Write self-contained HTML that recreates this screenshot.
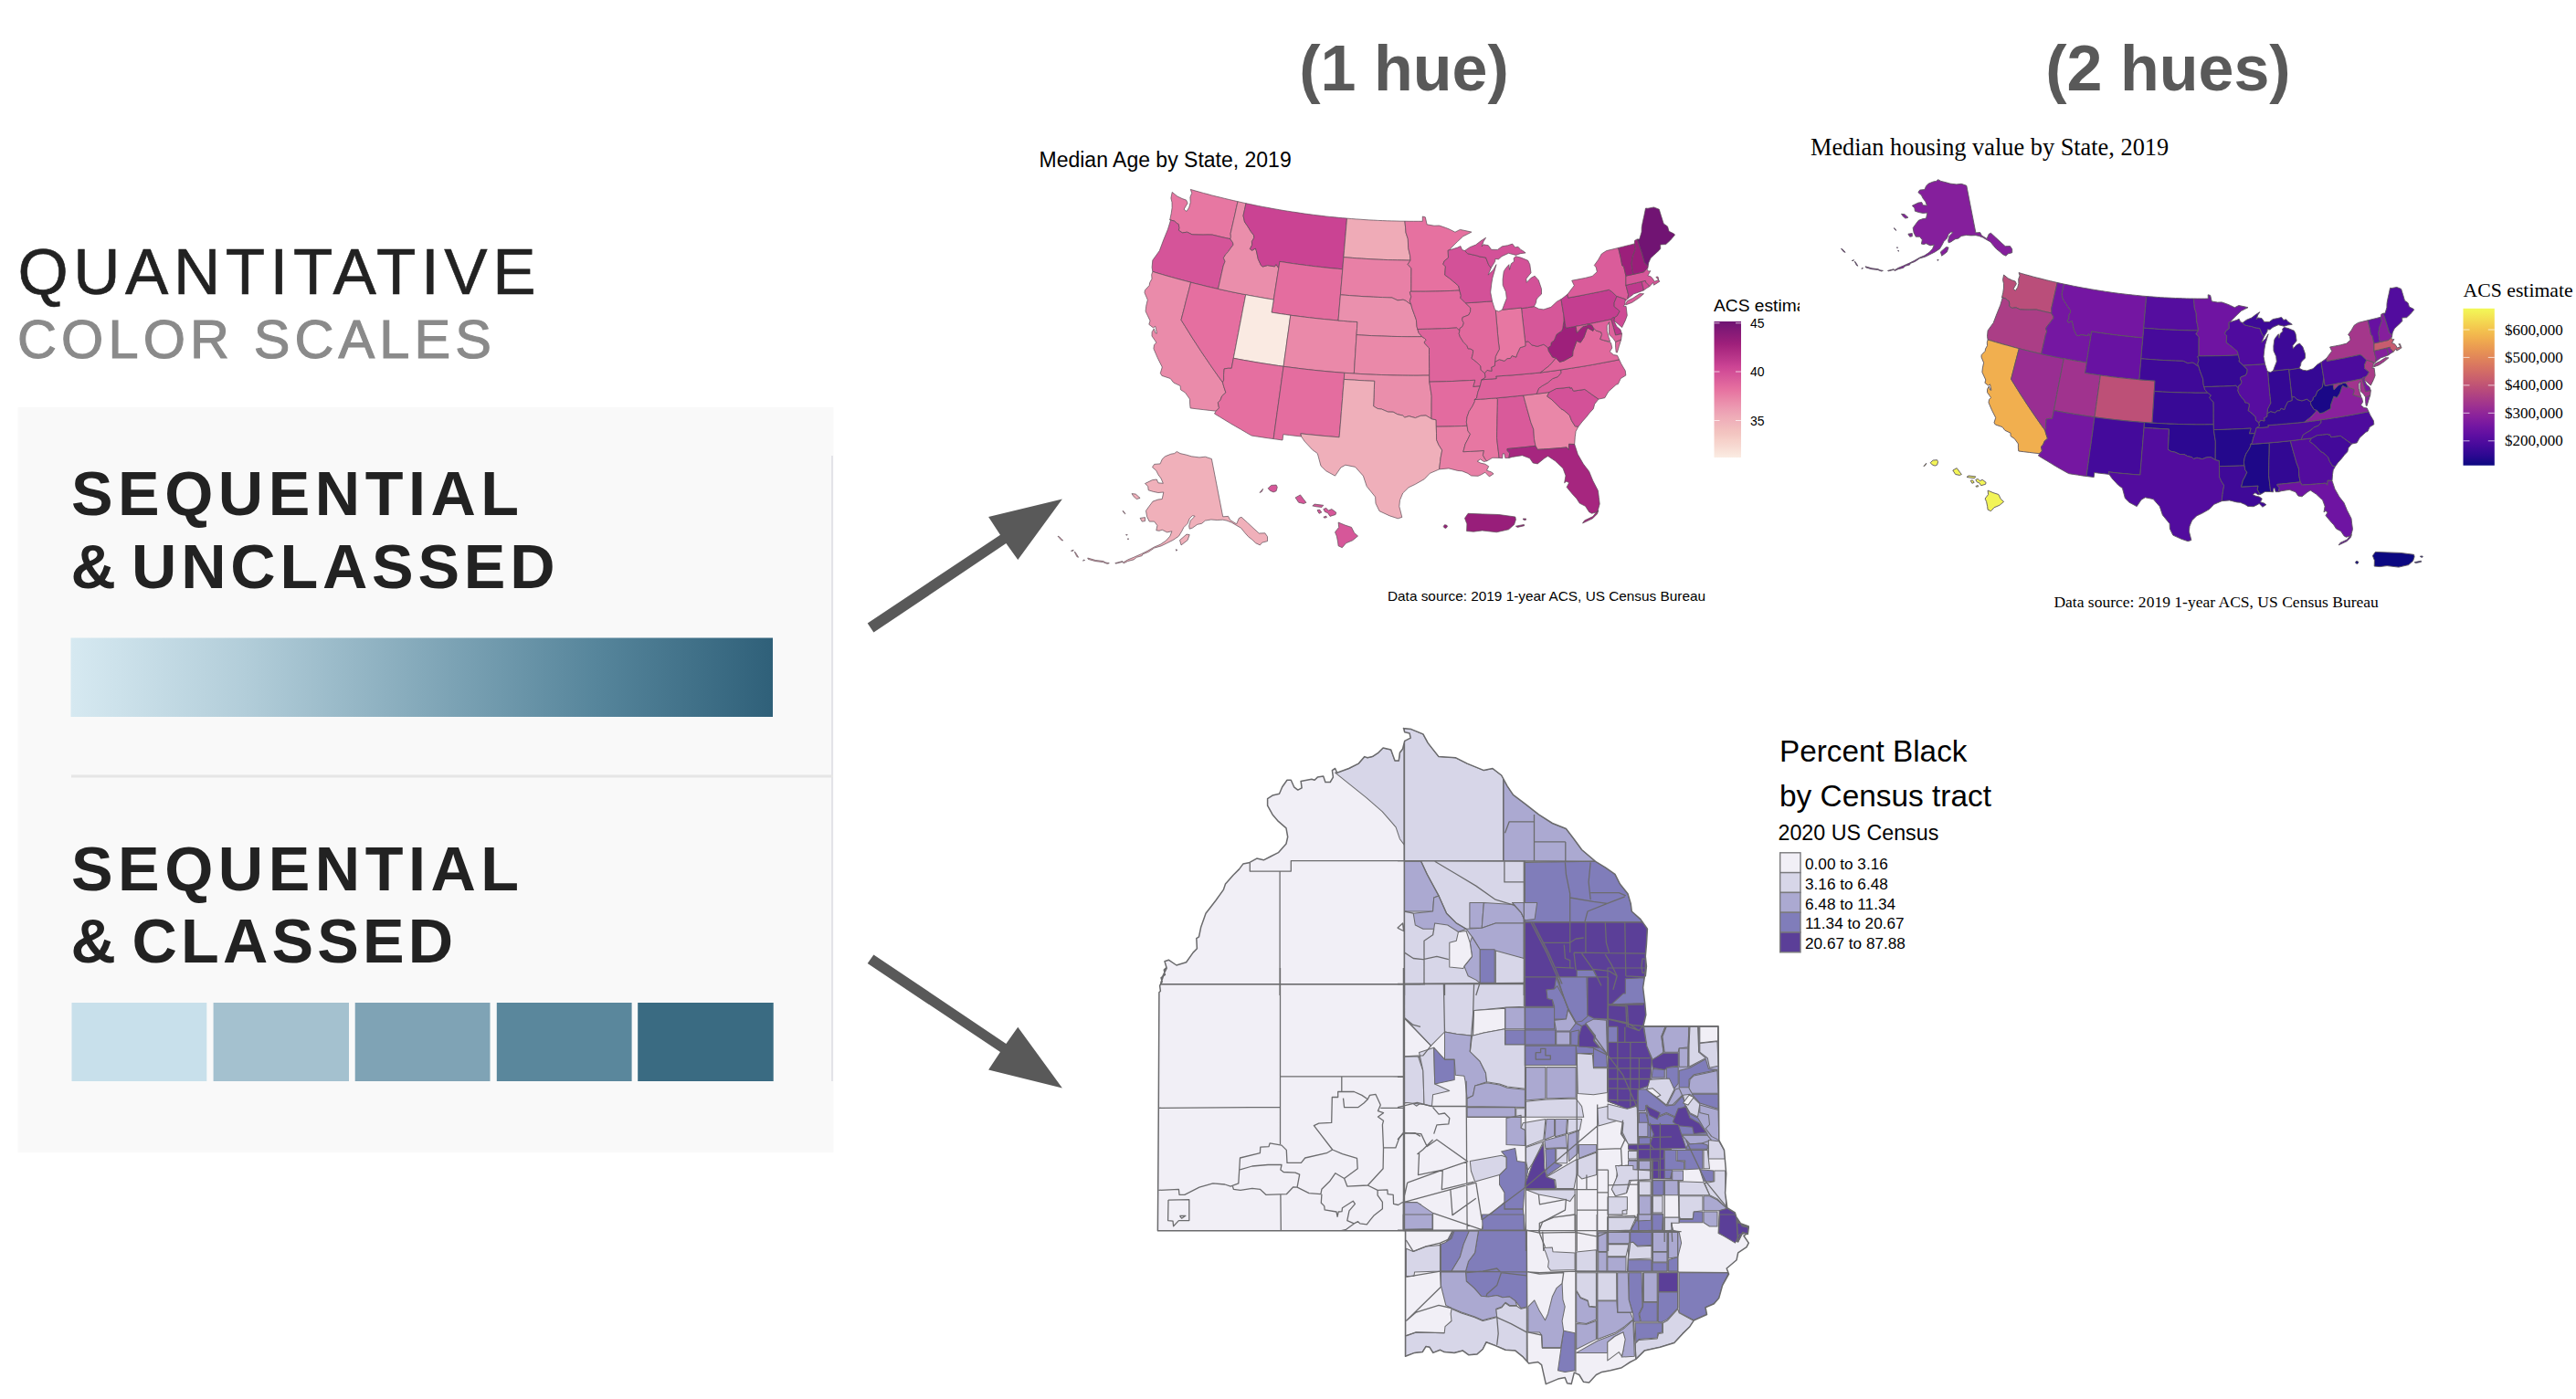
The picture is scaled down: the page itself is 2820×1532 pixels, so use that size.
<!DOCTYPE html>
<html><head><meta charset="utf-8"><title>Quantitative color scales</title>
<style>
html,body{margin:0;padding:0;background:#fff;}
body{width:2820px;height:1532px;overflow:hidden;position:relative;}
svg{position:absolute;left:0;top:0;display:block}
text{font-family:"Liberation Sans",sans-serif;}
.serif{font-family:"Liberation Serif",serif;}
</style></head><body>
<svg width="2820" height="1532" viewBox="0 0 2820 1532">
<defs>
<linearGradient id="gseq" x1="0" x2="1" y1="0" y2="0"><stop offset="0" stop-color="#d6e9f1"/><stop offset="0.25" stop-color="#b2cdd9"/><stop offset="0.5" stop-color="#84a9ba"/><stop offset="0.75" stop-color="#56859b"/><stop offset="1" stop-color="#2f6079"/></linearGradient>
<linearGradient id="grdpu" x1="0" x2="0" y1="1" y2="0">
<stop offset="0.0000" stop-color="#fbece3"/>
<stop offset="0.0417" stop-color="#f9e3da"/>
<stop offset="0.0833" stop-color="#f7d9d2"/>
<stop offset="0.1250" stop-color="#f6d1ca"/>
<stop offset="0.1667" stop-color="#f3c7c2"/>
<stop offset="0.2083" stop-color="#f2bfbe"/>
<stop offset="0.2500" stop-color="#f0b5bc"/>
<stop offset="0.2917" stop-color="#efadb8"/>
<stop offset="0.3333" stop-color="#eda3b5"/>
<stop offset="0.3750" stop-color="#ec97b0"/>
<stop offset="0.4167" stop-color="#ea8baa"/>
<stop offset="0.4583" stop-color="#e87ea5"/>
<stop offset="0.5000" stop-color="#e671a0"/>
<stop offset="0.5417" stop-color="#e0669d"/>
<stop offset="0.5833" stop-color="#d95b9a"/>
<stop offset="0.6250" stop-color="#d35097"/>
<stop offset="0.6667" stop-color="#cc4494"/>
<stop offset="0.7083" stop-color="#c03b8e"/>
<stop offset="0.7500" stop-color="#b53387"/>
<stop offset="0.7917" stop-color="#ab2981"/>
<stop offset="0.8333" stop-color="#9f207b"/>
<stop offset="0.8750" stop-color="#931d79"/>
<stop offset="0.9167" stop-color="#871a77"/>
<stop offset="0.9583" stop-color="#7b1775"/>
<stop offset="1.0000" stop-color="#6f1473"/>
</linearGradient><linearGradient id="gplasma" x1="0" x2="0" y1="1" y2="0">
<stop offset="0.0000" stop-color="#0c0881"/>
<stop offset="0.0625" stop-color="#2c0891"/>
<stop offset="0.1250" stop-color="#450a9b"/>
<stop offset="0.1875" stop-color="#5d0ea1"/>
<stop offset="0.2500" stop-color="#7316a2"/>
<stop offset="0.3125" stop-color="#89219c"/>
<stop offset="0.3750" stop-color="#9c3091"/>
<stop offset="0.4375" stop-color="#ad4084"/>
<stop offset="0.5000" stop-color="#bd5077"/>
<stop offset="0.5625" stop-color="#cb626c"/>
<stop offset="0.6250" stop-color="#d77362"/>
<stop offset="0.6875" stop-color="#e18659"/>
<stop offset="0.7500" stop-color="#ea9a52"/>
<stop offset="0.8125" stop-color="#f1b04e"/>
<stop offset="0.8750" stop-color="#f4c74e"/>
<stop offset="0.9375" stop-color="#f4e053"/>
<stop offset="1.0000" stop-color="#f2f958"/>
</linearGradient></defs>
<!--LEFT-->
<text x="19.5" y="321.5" font-size="71" fill="#222" stroke="#222" stroke-width="0.6" textLength="567" lengthAdjust="spacing">QUANTITATIVE</text>
<text x="19" y="391.5" font-size="59.5" fill="#8a8a8a" stroke="#8a8a8a" stroke-width="1.1" textLength="519" lengthAdjust="spacing">COLOR SCALES</text>
<rect x="19.5" y="446" width="893" height="816" fill="#f9f9f9"/>
<rect x="910" y="499" width="2" height="685" fill="#e3e3e8"/>
<rect x="78" y="848.5" width="834" height="3" fill="#e6e6e6"/>
<text x="78" y="563.5" font-size="68.3" font-weight="bold" fill="#222" textLength="490" lengthAdjust="spacing">SEQUENTIAL</text>
<text x="77.5" y="644" font-size="68.3" font-weight="bold" fill="#222">&amp;</text>
<text x="144" y="644" font-size="68.3" font-weight="bold" fill="#222" textLength="463.5" lengthAdjust="spacing">UNCLASSED</text>
<rect x="77.5" y="698.5" width="768.5" height="86.5" fill="url(#gseq)"/>
<text x="78" y="975" font-size="68.3" font-weight="bold" fill="#222" textLength="490" lengthAdjust="spacing">SEQUENTIAL</text>
<text x="77.5" y="1053.6" font-size="68.3" font-weight="bold" fill="#222">&amp;</text>
<text x="144.5" y="1053.6" font-size="68.3" font-weight="bold" fill="#222" textLength="351.7" lengthAdjust="spacing">CLASSED</text>
<rect x="78.5" y="1098" width="147.8" height="86" fill="#c8e0eb"/>
<rect x="233.6" y="1098" width="148.4" height="86" fill="#a4c1cf"/>
<rect x="388.7" y="1098" width="147.8" height="86" fill="#7fa3b5"/>
<rect x="543.8" y="1098" width="147.8" height="86" fill="#5a879c"/>
<rect x="698.2" y="1098" width="148.5" height="86" fill="#3a6b82"/>
<polygon points="949.7,682.4 1095,585.7 1082.1,566.1 1162.9,546.4 1114.3,613.1 1101.4,595 956.4,692.6" fill="#595959"/>
<polygon points="956.4,1045.4 1101.4,1142.9 1114.3,1124.7 1162.9,1191.4 1082.1,1171.4 1095,1152.1 949.7,1055" fill="#595959"/>
<text x="1537" y="99" font-size="70" font-weight="bold" fill="#595959" text-anchor="middle">(1 hue)</text>
<text x="2373.5" y="99" font-size="70" font-weight="bold" fill="#595959" text-anchor="middle">(2 hues)</text>
<!--MAP1-->
<text x="1137.5" y="182.5" font-size="23" fill="#000">Median Age by State, 2019</text>
<g stroke="#5a4a55" stroke-width="0.7" stroke-linejoin="round">
<path d="M1280.7,240.7L1282.2,233.8L1283.1,227.5L1283.0,221.6L1281.9,217.0L1283.2,210.4L1288.9,215.0L1294.1,217.5L1298.6,219.1L1300.1,222.4L1296.1,229.2L1299.0,231.5L1301.7,227.2L1303.2,221.8L1302.9,216.0L1304.7,211.4L1303.3,207.4L1308.0,208.8L1312.7,210.1L1317.3,211.4L1322.0,212.6L1326.7,213.9L1331.4,215.1L1336.1,216.2L1340.9,217.4L1345.6,218.5L1350.3,219.6L1355.0,220.7L1353.4,227.7L1351.9,234.7L1350.3,241.7L1348.7,248.7L1347.1,255.7L1347.4,259.4L1346.9,261.7L1346.9,261.7L1342.0,260.6L1337.0,259.5L1332.1,258.3L1327.1,257.1L1322.1,257.0L1317.1,257.1L1311.0,257.0L1305.0,256.8L1299.6,254.2L1294.3,254.9L1290.4,252.3L1290.8,249.5L1290.3,245.7L1288.2,244.4L1285.8,242.2L1280.7,240.7Z" fill="#e777a2"/>
<path d="M1261.8,297.4L1261.1,292.8L1261.8,285.0L1269.3,274.6L1273.7,262.8L1278.5,251.0L1281.4,241.6L1280.7,240.7L1285.8,242.2L1288.2,244.4L1290.3,245.7L1290.8,249.5L1290.4,252.3L1294.3,254.9L1299.6,254.2L1305.0,256.8L1311.0,257.0L1317.1,257.1L1322.1,257.0L1327.1,257.1L1332.1,258.3L1337.0,259.5L1342.0,260.6L1346.9,261.7L1346.9,261.7L1349.7,265.9L1350.0,268.2L1347.2,271.8L1344.5,275.6L1341.8,278.6L1339.4,282.4L1341.1,286.3L1339.2,291.0L1337.3,299.4L1335.4,307.9L1333.5,316.4L1328.3,315.2L1323.2,314.0L1318.0,312.8L1312.9,311.5L1307.7,310.3L1302.6,308.9L1297.5,307.6L1292.3,306.2L1287.2,304.8L1282.1,303.4L1277.0,301.9L1271.9,300.5L1266.9,299.0Z" fill="#d55499"/>
<path d="M1261.8,297.4L1267.0,299.0L1272.2,300.5L1277.4,302.1L1282.6,303.5L1287.9,305.0L1293.1,306.4L1298.4,307.8L1303.6,309.2L1301.9,316.1L1300.1,322.9L1298.3,329.7L1296.6,336.6L1294.8,343.5L1293.0,350.3L1297.3,357.2L1301.6,364.1L1305.9,371.0L1310.4,377.9L1314.9,384.8L1319.5,391.6L1324.1,398.4L1328.8,405.2L1333.6,412.0L1338.5,418.8L1339.7,423.3L1341.9,429.9L1337.7,433.7L1335.9,438.4L1333.3,440.8L1334.5,446.8L1331.2,450.2L1324.2,449.4L1317.1,448.6L1310.1,447.8L1303.1,446.9L1302.6,442.2L1302.5,437.1L1297.6,430.1L1292.4,426.7L1292.2,422.6L1284.8,419.1L1281.2,414.5L1271.9,411.4L1270.3,408.7L1272.3,402.0L1267.2,391.8L1262.9,381.8L1263.5,377.6L1265.9,375.3L1264.3,372.7L1261.0,368.0L1261.1,363.6L1263.3,359.9L1264.8,364.7L1266.4,365.2L1265.5,360.5L1264.7,357.3L1262.5,358.9L1257.8,355.3L1259.0,351.2L1254.1,340.9L1254.7,335.2L1256.3,328.3L1253.0,320.6L1253.4,317.8L1258.2,312.6L1258.6,309.7L1261.0,305.3L1260.7,300.8Z" fill="#ea8baa"/>
<path d="M1303.6,309.2L1309.0,310.6L1314.5,311.9L1319.9,313.3L1325.4,314.6L1330.8,315.8L1336.3,317.0L1341.8,318.2L1347.2,319.4L1352.7,320.5L1358.2,321.6L1363.7,322.7L1362.4,329.7L1361.0,336.6L1359.7,343.5L1358.4,350.5L1357.0,357.4L1355.7,364.4L1354.3,371.4L1353.0,378.3L1351.7,385.3L1350.3,392.2L1350.3,392.2L1348.2,403.3L1344.2,403.3L1340.2,403.9L1339.6,410.3L1339.7,416.1L1338.5,418.8L1333.6,412.0L1328.8,405.2L1324.1,398.4L1319.5,391.6L1314.9,384.8L1310.4,377.9L1305.9,371.0L1301.6,364.1L1297.3,357.2L1293.0,350.3L1294.8,343.5L1296.6,336.6L1298.3,329.7L1300.1,322.9L1301.9,316.1Z" fill="#e56fa0"/>
<path d="M1355.0,220.7L1364.0,222.7L1364.0,222.7L1362.5,229.5L1361.0,236.2L1362.5,243.0L1365.9,247.9L1369.2,253.3L1372.7,257.9L1372.7,260.7L1370.4,264.5L1370.7,268.2L1368.3,272.6L1370.5,274.3L1374.4,272.0L1375.4,274.8L1377.3,283.7L1380.5,290.7L1382.3,292.0L1387.6,290.6L1395.5,291.9L1396.9,289.5L1399.8,293.7L1398.4,302.3L1397.0,310.9L1395.7,319.5L1394.3,328.1L1388.7,327.2L1383.2,326.3L1377.6,325.3L1372.1,324.3L1366.6,323.3L1361.0,322.2L1355.5,321.1L1350.0,320.0L1344.5,318.8L1339.0,317.6L1333.5,316.4L1333.5,316.4L1335.4,307.9L1337.3,299.4L1339.2,291.0L1341.1,286.3L1339.4,282.4L1341.8,278.6L1344.5,275.6L1347.2,271.8L1350.0,268.2L1349.7,265.9L1346.9,261.7L1346.9,261.7L1347.4,259.4L1347.1,255.7L1348.7,248.7L1350.3,241.7L1351.9,234.7L1353.4,227.7L1355.0,220.7Z" fill="#ea8eab"/>
<path d="M1399.8,293.7L1396.9,289.5L1395.5,291.9L1387.6,290.6L1382.3,292.0L1380.5,290.7L1377.3,283.7L1375.4,274.8L1374.4,272.0L1370.5,274.3L1368.3,272.6L1370.7,268.2L1370.4,264.5L1372.7,260.7L1372.7,257.9L1369.2,253.3L1365.9,247.9L1362.5,243.0L1361.0,236.2L1362.5,229.5L1364.0,222.7L1368.5,223.6L1373.1,224.6L1377.6,225.5L1382.2,226.4L1386.8,227.2L1391.4,228.1L1396.0,228.9L1400.6,229.7L1405.1,230.5L1409.7,231.2L1414.3,231.9L1419.0,232.6L1423.6,233.3L1428.2,234.0L1432.8,234.6L1437.4,235.2L1442.0,235.8L1446.7,236.3L1451.3,236.9L1455.9,237.4L1460.6,237.8L1465.2,238.3L1469.8,238.7L1474.5,239.1L1473.9,246.0L1473.3,253.0L1472.7,259.9L1472.1,266.8L1471.5,273.8L1470.9,280.8L1470.3,287.8L1469.8,294.8L1464.8,294.3L1459.9,293.9L1455.0,293.4L1450.0,292.9L1445.1,292.3L1440.2,291.8L1435.3,291.2L1430.4,290.6L1425.4,289.9L1420.5,289.3L1415.6,288.6L1410.7,287.9L1405.8,287.1L1400.9,286.4Z" fill="#ca4393"/>
<path d="M1400.9,286.4L1405.8,287.1L1410.7,287.9L1415.6,288.6L1420.5,289.3L1425.4,289.9L1430.4,290.6L1435.3,291.2L1440.2,291.8L1445.1,292.3L1450.0,292.9L1455.0,293.4L1459.9,293.9L1464.8,294.3L1469.8,294.8L1469.2,301.8L1468.6,308.8L1468.0,315.8L1467.4,322.8L1466.8,329.8L1466.2,336.9L1465.6,343.9L1465.0,351.0L1459.8,350.5L1454.5,350.0L1449.3,349.5L1444.1,349.0L1438.9,348.4L1433.6,347.8L1428.4,347.2L1423.2,346.5L1418.0,345.9L1412.8,345.2L1407.6,344.4L1402.4,343.7L1397.2,342.9L1392.0,342.1L1393.2,335.1L1394.3,328.1L1395.4,321.1L1396.5,314.2L1397.6,307.2L1398.7,300.2L1399.8,293.3Z" fill="#e46d9f"/>
<path d="M1363.7,322.7L1368.8,323.7L1373.9,324.6L1379.0,325.5L1384.1,326.4L1389.2,327.3L1394.3,328.1L1393.2,335.1L1392.0,342.1L1397.2,342.9L1402.4,343.7L1407.6,344.4L1412.8,345.2L1411.8,352.2L1410.9,359.2L1409.9,366.2L1408.9,373.2L1408.0,380.2L1407.0,387.2L1406.0,394.2L1405.1,401.3L1399.6,400.5L1394.1,399.7L1388.6,398.8L1383.1,398.0L1377.6,397.1L1372.2,396.2L1366.7,395.2L1361.2,394.3L1355.8,393.3L1350.3,392.2L1351.7,385.3L1353.0,378.3L1354.3,371.4L1355.7,364.4L1357.0,357.4L1358.4,350.5L1359.7,343.5L1361.0,336.6L1362.4,329.7Z" fill="#faeae2"/>
<path d="M1412.8,345.2L1418.0,345.9L1423.2,346.5L1428.4,347.2L1433.6,347.8L1438.9,348.4L1444.1,349.0L1449.3,349.5L1454.5,350.0L1459.8,350.5L1465.0,351.0L1470.2,351.4L1475.4,351.8L1480.7,352.2L1485.9,352.5L1485.5,359.6L1485.0,366.6L1484.6,373.7L1484.1,380.8L1483.7,387.8L1483.2,394.9L1482.8,402.0L1482.3,409.0L1476.8,408.7L1471.3,408.3L1465.7,407.9L1460.2,407.4L1454.7,406.9L1449.1,406.4L1443.6,405.9L1438.1,405.3L1432.6,404.7L1427.1,404.1L1421.6,403.4L1416.1,402.7L1410.6,402.0L1405.1,401.3L1406.0,394.2L1407.0,387.2L1408.0,380.2L1408.9,373.2L1409.9,366.2L1410.9,359.2L1411.8,352.2Z" fill="#ea89a9"/>
<path d="M1350.3,392.2L1348.2,403.3L1344.2,403.3L1340.2,403.9L1339.6,410.3L1339.7,416.1L1338.5,418.8L1339.7,423.3L1341.9,429.9L1337.7,433.7L1335.9,438.4L1333.3,440.8L1334.5,446.8L1331.2,450.2L1329.5,453.0L1335.3,456.5L1341.0,460.0L1346.8,463.5L1352.6,466.9L1358.5,470.3L1364.3,473.7L1370.2,477.1L1376.2,478.0L1382.2,478.9L1388.1,479.8L1394.1,480.6L1395.1,473.4L1396.1,466.2L1397.1,459.0L1398.1,451.8L1399.1,444.6L1400.1,437.4L1401.1,430.2L1402.1,422.9L1403.1,415.7L1404.1,408.5L1405.1,401.3L1399.6,400.5L1394.1,399.7L1388.6,398.8L1383.1,398.0L1377.6,397.1L1372.2,396.2L1366.7,395.2L1361.2,394.3L1355.8,393.3Z" fill="#e56fa0"/>
<path d="M1405.1,401.3L1410.6,402.0L1416.2,402.7L1421.7,403.4L1427.3,404.1L1432.8,404.7L1438.4,405.3L1443.9,405.9L1449.5,406.4L1455.1,407.0L1460.7,407.4L1466.2,407.9L1471.8,408.3L1471.3,415.4L1470.7,422.4L1470.1,429.5L1469.6,436.5L1469.0,443.6L1468.4,450.6L1467.9,457.7L1467.3,464.7L1466.7,471.8L1466.1,478.8L1460.1,478.3L1454.1,477.8L1448.0,477.3L1442.0,476.7L1436.0,476.1L1430.0,475.5L1423.9,474.8L1424.6,478.0L1418.0,477.3L1411.4,476.5L1404.8,475.7L1404.0,482.0L1394.1,480.6L1395.1,473.4L1396.1,466.2L1397.1,459.0L1398.1,451.8L1399.1,444.6L1400.1,437.4L1401.1,430.2L1402.1,422.9L1403.1,415.7L1404.1,408.5Z" fill="#e46d9f"/>
<path d="M1474.5,239.1L1479.4,239.5L1484.2,239.9L1489.1,240.2L1494.0,240.6L1498.9,240.9L1503.7,241.1L1508.6,241.4L1513.5,241.6L1518.4,241.8L1523.3,241.9L1528.2,242.0L1533.1,242.2L1537.9,242.2L1538.6,249.2L1539.0,254.7L1541.3,261.7L1541.7,271.5L1543.6,279.9L1544.0,285.1L1539.1,285.0L1534.3,284.9L1529.4,284.8L1524.5,284.7L1519.6,284.6L1514.7,284.4L1509.9,284.2L1505.0,284.0L1500.1,283.7L1495.2,283.4L1490.3,283.1L1485.5,282.8L1480.6,282.4L1475.7,282.0L1470.9,281.6L1471.5,274.5L1472.1,267.4L1472.7,260.3L1473.3,253.2L1473.9,246.2Z" fill="#efabb7"/>
<path d="M1470.9,281.6L1475.7,282.0L1480.6,282.4L1485.5,282.8L1490.3,283.1L1495.2,283.4L1500.1,283.7L1505.0,284.0L1509.9,284.2L1514.7,284.4L1519.6,284.6L1524.5,284.7L1529.4,284.8L1534.3,284.9L1539.1,285.0L1544.0,285.1L1541.1,289.4L1545.0,293.9L1544.9,302.3L1544.9,310.8L1544.8,319.2L1543.3,319.9L1544.8,324.9L1543.3,329.8L1544.8,333.5L1542.2,331.9L1539.2,329.5L1536.1,328.2L1530.0,328.9L1523.9,326.0L1518.8,325.8L1513.6,325.6L1508.5,325.4L1503.3,325.2L1498.2,324.9L1493.0,324.7L1487.9,324.3L1482.8,324.0L1477.6,323.6L1472.5,323.2L1467.4,322.8L1468.1,314.6L1468.8,306.3L1469.5,298.1L1470.2,289.8Z" fill="#e880a6"/>
<path d="M1467.4,322.8L1472.5,323.2L1477.6,323.6L1482.8,324.0L1487.9,324.3L1493.0,324.7L1498.2,324.9L1503.3,325.2L1508.5,325.4L1513.6,325.6L1518.8,325.8L1523.9,326.0L1530.0,328.9L1536.1,328.2L1539.2,329.5L1542.2,331.9L1544.8,333.5L1545.8,337.6L1548.4,344.6L1550.4,350.3L1551.0,357.4L1551.8,360.5L1553.1,364.4L1556.7,368.7L1551.2,368.7L1545.7,368.7L1540.2,368.7L1534.7,368.6L1529.1,368.5L1523.6,368.4L1518.1,368.2L1512.6,368.0L1507.1,367.8L1501.6,367.6L1496.0,367.3L1490.5,367.0L1485.0,366.6L1485.5,359.6L1485.9,352.5L1480.7,352.2L1475.4,351.8L1470.2,351.4L1465.0,351.0L1465.6,343.9L1466.2,336.9L1466.8,329.8Z" fill="#ea90ad"/>
<path d="M1485.0,366.6L1490.5,367.0L1496.0,367.3L1501.6,367.6L1507.1,367.8L1512.6,368.0L1518.1,368.2L1523.6,368.4L1529.1,368.5L1534.7,368.6L1540.2,368.7L1545.7,368.7L1551.2,368.7L1556.7,368.7L1559.5,370.5L1561.2,372.2L1559.0,375.0L1561.2,377.8L1564.5,381.0L1564.5,388.5L1564.6,396.1L1564.7,403.6L1564.7,411.1L1558.8,411.1L1552.9,411.2L1547.0,411.2L1541.2,411.1L1535.3,411.1L1529.4,411.0L1523.5,410.9L1517.6,410.7L1511.7,410.5L1505.8,410.3L1500.0,410.0L1494.1,409.7L1488.2,409.4L1482.3,409.0L1482.8,402.0L1483.2,394.9L1483.7,387.8L1484.1,380.8L1484.6,373.7Z" fill="#ea89a9"/>
<path d="M1471.8,408.3L1477.6,408.7L1483.4,409.1L1489.2,409.5L1495.0,409.8L1500.8,410.1L1506.6,410.3L1512.4,410.5L1518.2,410.7L1524.0,410.9L1529.8,411.0L1535.7,411.1L1541.5,411.2L1547.3,411.2L1553.1,411.2L1558.9,411.1L1564.7,411.1L1564.8,418.2L1566.0,425.9L1567.2,433.7L1567.1,442.0L1567.1,450.3L1567.0,458.6L1567.0,458.6L1561.0,455.0L1555.2,455.3L1549.4,457.6L1542.5,455.7L1537.8,457.1L1535.5,455.0L1529.8,453.7L1525.2,451.2L1519.5,451.1L1512.6,448.1L1508.1,447.5L1503.6,444.8L1504.0,435.6L1504.3,426.5L1504.7,417.3L1499.2,417.1L1493.6,416.8L1488.0,416.5L1482.4,416.1L1476.9,415.8L1471.3,415.4Z" fill="#ea8eab"/>
<path d="M1471.3,415.4L1476.9,415.8L1482.4,416.1L1488.0,416.5L1493.6,416.8L1499.2,417.1L1504.7,417.3L1504.3,426.5L1504.0,435.6L1503.6,444.8L1508.1,447.5L1512.6,448.1L1519.5,451.1L1525.2,451.2L1529.8,453.7L1535.5,455.0L1537.8,457.1L1542.5,455.7L1549.4,457.6L1555.2,455.3L1561.0,455.0L1567.0,458.6L1572.2,459.8L1572.3,467.2L1572.5,474.4L1572.6,481.6L1575.0,487.2L1578.7,493.0L1577.1,501.2L1576.6,505.5L1575.6,513.9L1565.3,518.3L1559.2,524.7L1549.4,530.3L1542.0,533.8L1535.7,540.0L1532.5,547.7L1531.8,554.6L1534.8,566.4L1534.8,566.4L1530.3,567.8L1521.4,564.9L1510.1,559.7L1506.0,551.2L1505.6,544.2L1496.2,532.6L1492.4,521.2L1483.7,511.4L1472.9,509.2L1467.8,512.0L1461.6,521.1L1451.6,515.7L1446.0,510.3L1442.3,496.6L1436.7,492.5L1428.0,483.1L1424.6,478.0L1423.9,474.8L1430.0,475.5L1436.0,476.1L1442.0,476.7L1448.0,477.3L1454.1,477.8L1460.1,478.3L1466.1,478.8L1466.7,471.8L1467.3,464.7L1467.9,457.7L1468.4,450.6L1469.0,443.6L1469.6,436.5L1470.1,429.5L1470.7,422.4Z" fill="#efafba"/>
<path d="M1544.0,285.1L1543.6,279.9L1541.7,271.5L1541.3,261.7L1539.0,254.7L1538.6,249.2L1537.9,242.2L1542.8,242.3L1547.6,242.3L1552.5,242.3L1557.3,242.3L1557.3,237.0L1560.3,237.8L1562.1,245.8L1570.0,247.2L1575.6,247.0L1582.3,249.3L1587.1,251.2L1592.9,254.2L1598.4,251.4L1606.1,253.0L1610.9,254.1L1606.3,256.5L1601.7,258.8L1595.3,264.8L1587.9,272.1L1587.8,273.5L1585.2,274.2L1585.5,282.3L1581.2,285.7L1579.8,289.2L1582.4,291.9L1581.7,301.1L1586.3,304.4L1590.5,307.8L1596.7,313.1L1597.8,318.0L1592.5,318.3L1587.2,318.5L1581.9,318.7L1576.6,318.9L1571.3,319.0L1566.0,319.1L1560.7,319.2L1555.4,319.2L1550.1,319.2L1544.8,319.2L1544.8,319.2L1544.9,310.8L1544.9,302.3L1545.0,293.9L1541.1,289.4L1544.0,285.1Z" fill="#e671a0"/>
<path d="M1544.8,319.2L1550.1,319.2L1555.4,319.2L1560.7,319.2L1566.0,319.1L1571.3,319.0L1576.6,318.9L1581.9,318.7L1587.2,318.5L1592.5,318.3L1597.8,318.0L1599.3,323.6L1598.9,326.4L1604.3,331.8L1609.8,337.1L1609.6,341.4L1607.7,345.0L1601.1,347.5L1600.7,350.4L1602.4,353.8L1601.0,357.5L1598.0,359.7L1597.9,362.1L1594.5,359.0L1589.1,359.3L1583.8,359.6L1578.5,359.8L1573.2,360.0L1567.8,360.2L1562.5,360.3L1557.2,360.4L1551.8,360.5L1551.8,360.5L1551.0,357.4L1550.4,350.3L1548.4,344.6L1545.8,337.6L1544.8,333.5L1544.8,333.5L1543.3,329.8L1544.8,324.9L1543.3,319.9L1544.8,319.2Z" fill="#e36b9f"/>
<path d="M1551.8,360.5L1557.2,360.4L1562.5,360.3L1567.8,360.2L1573.2,360.0L1578.5,359.8L1583.8,359.6L1589.1,359.3L1594.5,359.0L1597.9,362.1L1597.2,365.4L1598.4,368.9L1601.9,374.4L1605.9,378.5L1607.2,381.9L1609.3,381.8L1612.7,383.7L1612.4,387.3L1611.0,392.4L1616.2,396.3L1620.9,400.9L1621.2,405.2L1625.4,408.7L1626.2,413.3L1623.6,415.0L1621.9,415.8L1621.1,419.4L1620.2,423.0L1612.7,423.5L1614.7,416.3L1608.5,416.6L1602.2,416.9L1596.0,417.2L1589.8,417.5L1583.5,417.7L1577.3,417.9L1571.1,418.0L1564.8,418.2L1564.7,411.1L1564.7,403.6L1564.6,396.1L1564.5,388.5L1564.5,381.0L1561.2,377.8L1559.0,375.0L1561.2,372.2L1559.5,370.5L1556.7,368.7L1556.7,368.7L1553.1,364.4L1551.8,360.5Z" fill="#de649c"/>
<path d="M1564.8,418.2L1571.1,418.0L1577.3,417.9L1583.5,417.7L1589.8,417.5L1596.0,417.2L1602.2,416.9L1608.5,416.6L1614.7,416.3L1612.7,423.5L1620.2,423.0L1617.8,429.5L1616.5,436.0L1614.3,437.5L1614.4,439.7L1611.9,444.8L1608.2,450.6L1606.1,456.4L1605.3,462.1L1606.1,466.3L1599.3,466.6L1592.6,466.8L1585.8,467.0L1579.1,467.1L1572.3,467.2L1572.2,459.8L1567.0,458.6L1567.1,450.3L1567.1,442.0L1567.2,433.7L1566.0,425.9Z" fill="#e36b9f"/>
<path d="M1572.3,467.2L1579.1,467.1L1585.8,467.0L1592.6,466.8L1599.3,466.6L1606.1,466.3L1606.9,471.9L1609.5,475.3L1606.8,481.1L1604.1,486.2L1602.6,491.9L1601.8,494.7L1609.3,494.4L1616.9,493.9L1624.5,493.5L1623.4,498.5L1626.1,503.2L1627.8,504.8L1624.4,505.5L1620.6,502.9L1617.2,505.2L1620.9,507.1L1625.8,508.2L1629.7,510.7L1627.5,515.1L1632.5,516.9L1635.1,518.8L1630.4,521.9L1625.8,517.3L1621.7,519.7L1618.1,521.3L1610.7,521.0L1606.9,518.4L1600.7,515.9L1595.8,515.4L1585.9,512.9L1575.6,513.9L1575.6,513.9L1576.6,505.5L1577.1,501.2L1578.7,493.0L1575.0,487.2L1572.6,481.6L1572.5,474.4Z" fill="#e880a6"/>
<path d="M1614.3,437.5L1614.4,439.7L1611.9,444.8L1608.2,450.6L1606.1,456.4L1605.3,462.1L1606.1,466.3L1606.9,471.9L1609.5,475.3L1606.8,481.1L1604.1,486.2L1602.6,491.9L1601.8,494.7L1609.3,494.4L1616.9,493.9L1624.5,493.5L1623.4,498.5L1626.1,503.2L1627.8,504.8L1633.9,501.3L1641.1,501.4L1640.3,494.2L1639.4,487.0L1638.6,479.7L1638.7,472.7L1638.9,465.6L1639.0,458.5L1639.2,451.4L1639.3,444.3L1639.4,437.2L1638.2,435.9L1632.2,436.3L1626.2,436.8L1620.3,437.2L1614.3,437.5Z" fill="#e777a2"/>
<path d="M1638.2,435.9L1639.4,437.2L1639.3,444.3L1639.2,451.4L1639.0,458.5L1638.9,465.6L1638.7,472.7L1638.6,479.7L1639.4,487.0L1640.3,494.2L1641.1,501.4L1644.8,501.8L1645.0,496.9L1646.8,496.7L1647.8,501.6L1651.8,501.5L1652.8,496.2L1650.1,493.6L1650.0,491.5L1656.2,490.9L1662.4,490.3L1668.6,489.7L1674.8,489.0L1681.0,488.3L1681.0,488.3L1679.5,480.7L1678.8,470.1L1675.8,462.4L1673.8,455.1L1671.7,447.7L1669.7,440.4L1667.7,433.0L1661.8,433.6L1655.9,434.2L1650.0,434.8L1644.1,435.3Z" fill="#d95a9a"/>
<path d="M1667.7,433.0L1669.7,440.4L1671.7,447.7L1673.8,455.1L1675.8,462.4L1678.8,470.1L1679.5,480.7L1681.0,488.3L1683.1,492.3L1689.5,491.9L1695.9,491.5L1702.3,491.0L1708.7,490.5L1715.1,489.9L1717.3,492.6L1717.6,486.3L1723.7,486.5L1724.3,478.2L1725.1,472.3L1727.9,467.2L1724.3,466.8L1720.3,460.3L1718.3,454.9L1712.1,449.4L1708.9,447.7L1701.4,440.2L1698.1,437.1L1693.7,434.1L1695.9,429.5L1690.3,430.3L1684.6,431.0L1679.0,431.7L1673.3,432.4Z" fill="#e987a8"/>
<path d="M1651.8,501.5L1652.8,496.2L1650.1,493.6L1650.0,491.5L1656.2,490.9L1662.4,490.3L1668.6,489.7L1674.8,489.0L1681.0,488.3L1683.1,492.3L1689.5,491.9L1695.9,491.5L1702.3,491.0L1708.7,490.5L1715.1,489.9L1717.3,492.6L1717.6,486.3L1723.7,486.5L1727.3,497.6L1733.3,508.0L1739.6,516.2L1743.7,526.2L1749.4,537.3L1750.3,544.5L1751.2,551.8L1748.8,560.6L1742.6,562.3L1739.7,560.7L1735.5,554.3L1729.2,551.1L1725.9,545.9L1721.3,541.0L1715.1,533.4L1717.6,528.8L1714.9,527.1L1712.6,528.8L1714.0,520.9L1711.0,512.8L1702.5,504.8L1694.5,499.4L1690.5,502.0L1683.2,507.9L1678.2,507.0L1674.6,501.8L1666.4,498.7L1655.6,500.4L1651.8,501.5ZM1749.8,559.0L1748.5,562.8L1743.5,567.8L1732.5,573.0L1734.6,569.9L1743.8,565.6L1747.5,560.8Z" fill="#a6267f"/>
<path d="M1695.9,429.5L1703.4,425.6L1711.1,424.9L1718.7,424.0L1718.9,425.4L1720.5,424.5L1722.5,428.2L1728.7,427.3L1734.9,426.4L1742.4,431.8L1750.0,437.1L1745.7,442.4L1744.3,447.7L1740.3,452.0L1736.4,456.9L1731.9,462.0L1727.9,467.2L1727.9,467.2L1724.3,466.8L1720.3,460.3L1718.3,454.9L1712.1,449.4L1708.9,447.7L1701.4,440.2L1698.1,437.1L1693.7,434.1L1695.9,429.5Z" fill="#d35198"/>
<path d="M1708.6,405.0L1708.8,408.4L1705.5,412.5L1699.6,414.7L1694.5,419.0L1688.1,422.7L1684.5,425.3L1682.1,431.3L1689.0,430.5L1695.9,429.5L1703.4,425.6L1711.1,424.9L1718.7,424.0L1718.9,425.4L1720.5,424.5L1722.5,428.2L1728.7,427.3L1734.9,426.4L1742.4,431.8L1750.0,437.1L1756.8,435.7L1760.8,428.8L1769.2,421.3L1771.4,420.5L1774.2,414.5L1779.8,411.1L1779.3,406.1L1774.8,398.4L1772.6,393.8L1766.8,395.0L1761.0,396.1L1755.2,397.2L1749.4,398.3L1743.6,399.4L1737.8,400.4L1731.9,401.4L1726.1,402.3L1720.3,403.2L1714.4,404.1Z" fill="#dc609b"/>
<path d="M1614.3,437.5L1614.3,437.5L1616.5,436.0L1617.8,429.5L1620.2,423.0L1620.2,423.0L1621.1,419.4L1621.9,415.8L1630.0,415.2L1638.1,414.6L1637.7,412.0L1643.8,411.6L1649.9,411.2L1656.0,410.8L1662.1,410.3L1668.2,409.7L1674.3,409.2L1680.4,408.6L1686.4,408.0L1692.0,407.3L1697.5,406.5L1703.0,405.8L1708.6,405.0L1708.6,405.0L1708.8,408.4L1705.5,412.5L1699.6,414.7L1694.5,419.0L1688.1,422.7L1684.5,425.3L1682.1,431.3L1674.9,432.2L1667.7,433.0L1661.8,433.6L1655.9,434.2L1650.0,434.8L1644.1,435.3L1638.2,435.9L1632.2,436.3L1626.2,436.8L1620.3,437.2Z" fill="#dd629c"/>
<path d="M1621.9,415.8L1623.6,415.0L1626.2,413.3L1625.4,408.7L1627.9,405.4L1633.0,406.4L1632.6,402.2L1636.4,400.5L1636.6,396.2L1641.3,393.7L1646.9,395.3L1650.0,392.6L1653.3,392.5L1655.2,389.5L1659.7,391.1L1661.0,387.2L1664.1,380.7L1669.9,378.9L1669.7,374.4L1673.1,373.9L1676.8,377.8L1683.0,379.4L1689.9,377.2L1694.8,380.8L1695.3,384.3L1699.6,391.1L1703.4,392.1L1696.4,400.2L1686.4,408.0L1680.4,408.6L1674.3,409.2L1668.2,409.7L1662.1,410.3L1656.0,410.8L1649.9,411.2L1643.8,411.6L1637.7,412.0L1638.1,414.6L1630.0,415.2Z" fill="#dc609b"/>
<path d="M1686.4,408.0L1696.4,400.2L1703.4,392.1L1707.3,396.4L1712.1,395.1L1716.0,392.9L1721.6,389.8L1721.9,384.8L1726.0,373.3L1730.2,375.1L1733.9,369.4L1737.7,358.9L1744.0,362.4L1744.7,359.5L1747.6,362.1L1752.9,363.9L1753.5,366.7L1751.7,371.4L1755.8,372.7L1763.6,375.4L1764.8,381.0L1762.3,385.1L1766.4,388.6L1770.5,389.2L1772.6,393.8L1766.8,395.0L1761.0,396.1L1755.2,397.2L1749.4,398.3L1743.6,399.4L1737.8,400.4L1731.9,401.4L1726.1,402.3L1720.3,403.2L1714.4,404.1L1708.6,405.0L1703.0,405.8L1697.5,406.5L1692.0,407.3ZM1769.2,385.8L1768.6,380.2L1768.5,374.4L1774.7,371.9L1772.3,379.4L1770.4,386.0Z" fill="#e1699d"/>
<path d="M1703.4,392.1L1699.6,391.1L1695.3,384.3L1694.8,380.8L1697.7,378.5L1698.3,374.9L1701.3,373.0L1702.5,369.9L1704.1,366.1L1709.5,362.4L1710.7,360.1L1712.0,351.2L1712.0,346.4L1714.1,359.2L1719.6,358.3L1725.1,357.3L1726.4,364.6L1729.8,360.4L1733.1,357.6L1736.7,356.7L1738.6,355.2L1742.6,355.9L1744.7,359.5L1744.0,362.4L1737.7,358.9L1733.9,369.4L1730.2,375.1L1726.0,373.3L1721.9,384.8L1721.6,389.8L1716.0,392.9L1712.1,395.1L1707.3,396.4L1703.4,392.1Z" fill="#9e207b"/>
<path d="M1669.7,374.4L1673.1,373.9L1676.8,377.8L1683.0,379.4L1689.9,377.2L1694.8,380.8L1697.7,378.5L1698.3,374.9L1701.3,373.0L1702.5,369.9L1704.1,366.1L1709.5,362.4L1710.7,360.1L1712.0,351.2L1712.0,346.4L1710.5,337.0L1709.0,327.7L1704.3,330.3L1697.9,336.3L1689.9,338.9L1684.5,338.2L1679.4,335.6L1672.5,336.7L1665.6,337.8L1666.4,345.1L1667.2,352.4L1668.0,359.7L1668.8,367.0Z" fill="#d65799"/>
<path d="M1637.3,339.9L1640.8,341.1L1644.6,339.2L1649.8,338.7L1655.0,338.1L1660.2,337.6L1665.5,337.0L1666.3,344.4L1667.1,351.9L1668.0,359.4L1668.8,366.9L1669.7,374.4L1669.9,378.9L1664.1,380.7L1661.0,387.2L1659.7,391.1L1655.2,389.5L1653.3,392.5L1650.0,392.6L1646.9,395.3L1641.3,393.7L1636.6,396.2L1636.6,396.2L1637.2,390.5L1639.0,386.8L1641.4,382.3L1640.3,373.8L1639.5,365.3L1638.8,356.9L1638.0,348.4Z" fill="#e777a2"/>
<path d="M1604.3,331.8L1609.8,337.1L1609.6,341.4L1607.7,345.0L1601.1,347.5L1600.7,350.4L1602.4,353.8L1601.0,357.5L1598.0,359.7L1597.9,362.1L1597.2,365.4L1598.4,368.9L1601.9,374.4L1605.9,378.5L1607.2,381.9L1609.3,381.8L1612.7,383.7L1612.4,387.3L1611.0,392.4L1616.2,396.3L1620.9,400.9L1621.2,405.2L1625.4,408.7L1627.9,405.4L1633.0,406.4L1632.6,402.2L1636.4,400.5L1636.6,396.2L1636.6,396.2L1637.2,390.5L1639.0,386.8L1641.4,382.3L1640.3,373.8L1639.5,365.3L1638.8,356.9L1638.0,348.4L1637.3,339.9L1636.4,338.7L1633.6,329.9L1627.7,330.3L1621.9,330.7L1616.0,331.1L1610.2,331.5Z" fill="#e1699d"/>
<path d="M1587.8,273.5L1585.2,274.2L1585.5,282.3L1581.2,285.7L1579.8,289.2L1582.4,291.9L1581.7,301.1L1586.3,304.4L1590.5,307.8L1596.7,313.1L1597.8,318.0L1599.3,323.6L1598.9,326.4L1604.3,331.8L1610.2,331.5L1616.0,331.1L1621.9,330.7L1627.7,330.3L1633.6,329.9L1631.7,320.0L1632.9,310.0L1633.9,304.2L1636.0,297.0L1638.0,289.7L1634.6,295.7L1629.1,301.1L1632.4,293.2L1632.4,293.2L1631.9,293.1L1629.6,289.8L1626.5,282.0L1620.1,281.1L1616.5,279.9L1611.6,278.8L1606.6,277.7L1603.5,274.5L1600.6,273.6L1598.9,269.5L1595.6,271.1Z" fill="#d35198"/>
<path d="M1603.5,274.5L1606.6,277.7L1611.6,278.8L1616.5,279.9L1620.1,281.1L1626.5,282.0L1629.6,289.8L1631.9,293.1L1632.4,293.2L1636.7,286.3L1636.9,283.5L1640.4,283.9L1644.0,280.7L1651.5,277.3L1659.4,279.4L1664.3,277.7L1670.1,276.9L1666.9,274.5L1664.8,273.4L1661.9,270.2L1658.6,270.9L1655.7,267.1L1650.6,268.7L1644.4,269.8L1639.4,273.4L1632.6,273.3L1629.3,268.7L1623.9,267.8L1622.1,270.0L1624.1,264.3L1626.6,260.3L1621.1,263.8L1615.7,268.0L1609.1,270.7ZM1659.3,280.7L1664.9,282.1L1672.7,285.3L1674.8,289.7L1676.0,298.8L1670.8,305.2L1671.3,309.4L1675.8,304.5L1680.1,302.2L1684.3,306.9L1687.5,316.4L1687.5,322.1L1683.8,325.5L1682.0,327.9L1681.5,331.5L1679.4,335.6L1672.5,336.7L1665.6,337.8L1665.5,337.0L1660.2,337.6L1655.0,338.1L1649.8,338.7L1644.6,339.2L1646.4,334.2L1649.3,326.8L1648.5,319.8L1645.2,312.3L1645.1,306.0L1646.2,297.4L1647.9,294.4L1651.9,289.7L1652.5,295.3L1654.3,288.7L1657.5,286.3L1657.1,282.8Z" fill="#d35198"/>
<path d="M1709.0,327.7L1716.0,322.3L1716.7,326.1L1722.3,325.1L1727.9,324.1L1733.5,323.0L1739.1,321.9L1744.7,320.8L1750.3,319.7L1755.9,318.5L1761.5,317.3L1764.6,319.5L1770.0,324.6L1767.2,331.2L1767.1,335.6L1773.2,340.7L1770.5,345.7L1767.6,347.8L1765.5,347.8L1763.8,349.8L1758.3,350.9L1752.8,352.1L1747.3,353.2L1741.8,354.3L1736.3,355.3L1730.8,356.3L1725.2,357.3L1719.7,358.3L1714.1,359.2L1712.8,351.3L1711.6,343.4L1710.3,335.5Z" fill="#c43e90"/>
<path d="M1716.0,322.3L1723.3,312.7L1720.7,307.2L1728.0,305.8L1735.2,304.4L1743.1,302.4L1748.3,297.7L1747.3,292.9L1745.3,290.5L1749.6,284.5L1753.3,278.0L1758.6,274.6L1765.1,273.0L1771.6,271.4L1774.1,281.8L1775.8,290.8L1777.6,291.8L1779.9,302.1L1779.9,312.3L1782.6,322.5L1781.9,327.1L1779.7,329.3L1779.3,327.7L1770.0,324.6L1764.6,319.5L1761.5,317.3L1755.9,318.5L1750.3,319.7L1744.7,320.8L1739.1,321.9L1733.5,323.0L1727.9,324.1L1722.3,325.1L1716.7,326.1ZM1779.3,333.5L1781.4,329.4L1787.7,326.4L1795.1,321.6L1799.5,321.7L1794.1,326.3L1786.7,331.3L1779.7,333.9Z" fill="#da5c9a"/>
<path d="M1770.0,324.6L1779.3,327.7L1778.9,332.9L1777.4,335.4L1780.1,335.5L1781.3,345.4L1779.3,350.9L1775.6,358.6L1771.4,354.9L1766.7,350.9L1767.6,347.8L1770.5,345.7L1773.2,340.7L1767.1,335.6L1767.2,331.2L1770.0,324.6Z" fill="#cf4a95"/>
<path d="M1763.8,349.8L1765.5,347.8L1767.6,347.8L1766.7,350.9L1769.8,357.5L1773.9,360.9L1775.5,365.6L1768.5,367.0L1766.2,358.4Z" fill="#bb378a"/>
<path d="M1725.1,357.3L1730.7,356.4L1736.2,355.3L1741.7,354.3L1747.3,353.2L1752.8,352.1L1758.3,350.9L1763.8,349.8L1766.2,358.4L1768.5,367.0L1775.5,365.6L1774.7,371.9L1768.5,374.4L1766.0,370.6L1761.7,366.4L1761.4,360.7L1761.5,354.9L1761.6,352.7L1759.2,356.8L1759.3,362.6L1761.1,369.5L1762.8,374.2L1755.8,372.7L1751.7,371.4L1753.5,366.7L1752.9,363.9L1747.6,362.1L1744.7,359.5L1744.7,359.5L1742.6,355.9L1738.6,355.2L1736.7,356.7L1733.1,357.6L1729.8,360.4L1726.4,364.6Z" fill="#dd629c"/>
<path d="M1779.9,312.3L1785.7,311.0L1791.4,309.7L1797.1,308.4L1799.3,316.9L1799.1,318.1L1793.9,320.0L1788.7,321.8L1781.9,327.1L1782.6,322.5Z" fill="#be3a8d"/>
<path d="M1797.1,308.4L1801.3,307.3L1801.7,309.0L1804.5,311.9L1805.8,313.7L1803.2,315.2L1799.1,318.1L1799.3,316.9Z" fill="#d14d96"/>
<path d="M1779.9,302.1L1788.0,300.4L1793.8,299.1L1799.6,297.8L1802.4,294.4L1804.8,297.2L1806.8,296.6L1803.9,301.8L1807.4,303.0L1809.9,306.0L1811.0,308.3L1815.9,306.5L1815.0,303.1L1812.9,303.3L1816.9,308.2L1810.5,312.2L1809.7,309.4L1805.8,313.7L1804.5,311.9L1801.7,309.0L1801.3,307.3L1797.1,308.4L1791.4,309.7L1785.7,311.0L1779.9,312.3Z" fill="#d65799"/>
<path d="M1771.6,271.4L1777.5,269.9L1783.5,268.4L1789.4,266.9L1790.4,272.6L1787.3,280.7L1786.1,288.2L1787.2,296.7L1788.0,300.4L1779.9,302.1L1777.6,291.8L1775.8,290.8L1774.1,281.8Z" fill="#9c1f7b"/>
<path d="M1788.0,300.4L1787.2,296.7L1786.1,288.2L1787.3,280.7L1790.4,272.6L1789.4,266.9L1789.5,263.4L1792.3,261.9L1794.5,268.6L1796.8,275.3L1800.5,288.1L1804.2,291.2L1803.8,294.2L1802.4,294.4L1799.6,297.8L1793.8,299.1Z" fill="#9a1e7a"/>
<path d="M1804.2,291.2L1800.5,288.1L1796.8,275.3L1794.5,268.6L1792.3,261.9L1794.7,262.0L1797.1,254.0L1797.2,248.9L1798.0,244.4L1799.8,236.2L1801.5,228.0L1803.9,228.2L1810.5,226.9L1816.3,229.2L1818.7,237.0L1821.2,244.9L1825.5,247.9L1827.1,253.3L1832.6,256.0L1833.5,257.2L1828.6,263.1L1823.7,267.6L1817.6,267.9L1817.8,272.3L1816.2,274.2L1810.4,279.5L1807.1,282.6L1804.8,287.7Z" fill="#711473"/>
<path d="M1288.3,494.5L1292.0,496.6L1299.0,498.2L1304.4,499.8L1313.0,500.9L1319.4,500.2L1326.4,502.5L1338.7,565.8L1344.6,565.4L1346.7,569.5L1353.7,573.8L1356.4,567.4L1359.0,566.3L1365.5,572.2L1373.0,579.2L1378.3,584.0L1384.8,583.8L1387.5,587.7L1387.5,592.6L1381.6,594.2L1379.4,596.9L1374.6,594.7L1370.8,591.0L1366.6,587.7L1362.8,583.5L1358.5,578.1L1353.7,575.4L1348.3,572.2L1343.0,570.1L1338.7,569.2L1332.2,569.5L1325.8,569.0L1319.4,570.1L1315.6,573.3L1310.8,574.3L1305.4,578.1L1302.2,579.2L1301.7,575.9L1303.3,570.1L1308.1,565.2L1305.4,564.7L1302.2,567.9L1300.1,573.3L1295.8,577.6L1293.7,581.8L1290.4,587.2L1284.0,591.5L1277.6,594.7L1271.1,597.9L1263.6,600.1L1257.2,604.4L1250.8,607.0L1250.2,608.6L1244.3,610.3L1241.1,612.9L1234.7,614.5L1230.4,616.7L1229.3,616.1L1234.7,612.9L1241.1,610.3L1249.7,606.5L1256.1,603.3L1263.6,599.0L1270.1,596.3L1276.5,592.0L1280.8,587.2L1282.9,581.8L1277.6,582.9L1272.2,580.2L1269.0,581.3L1265.8,580.8L1266.9,575.4L1263.6,571.1L1258.3,571.1L1255.6,565.8L1254.5,559.3L1258.3,554.0L1262.0,549.1L1267.9,547.0L1272.2,546.5L1273.8,539.0L1267.9,539.5L1262.6,538.4L1257.2,536.8L1256.7,532.5L1253.5,529.5L1261.5,525.6L1266.3,525.0L1267.9,528.8L1273.3,529.3L1271.1,524.0L1267.9,519.7L1265.8,515.4L1261.5,511.6L1263.6,508.4L1270.1,507.9L1272.2,503.0L1275.4,499.8L1281.9,497.2L1285.6,496.6ZM1291.5,591.5L1299.0,585.1L1302.2,585.6L1300.1,591.5L1293.1,596.9ZM1239.0,540.6L1243.3,541.1L1248.1,545.4L1244.3,546.5L1241.1,543.8ZM1248.1,567.4L1253.5,566.6L1253.5,570.6L1250.2,571.1ZM1229.3,559.3L1232.0,562.5L1231.5,562.8L1229.1,559.9ZM1214.3,616.7L1210.0,615.9L1207.9,614.5L1199.3,613.5L1190.7,611.0L1191.3,612.4L1198.8,614.5L1207.4,615.6L1212.2,617.4ZM1187.0,612.9L1185.4,614.0L1187.5,613.6ZM1178.9,609.7L1176.3,604.4L1177.0,604.4L1180.6,610.3ZM1172.5,603.3L1175.2,602.2L1174.7,603.3ZM1161.8,591.5L1158.0,587.2L1159.6,587.7L1163.7,592.0ZM1220.8,616.7L1228.8,614.5L1229.3,615.3L1221.3,617.2ZM1287.2,601.7L1288.8,602.2L1287.8,603.3ZM1232.5,585.6L1234.2,585.4L1233.6,586.3ZM1234.2,589.9L1235.8,590.1L1234.7,590.7Z" fill="#f0b0ba"/>
<path d="M1379.0,539.5L1382.6,535.3L1381.4,538.3ZM1388.1,534.7L1391.7,531.4L1397.1,531.1L1398.3,533.5L1397.1,537.7L1394.1,538.9L1390.5,537.4ZM1418.1,544.9L1423.5,541.9L1426.6,546.1L1429.9,550.3L1427.2,551.5L1421.7,550.3ZM1436.8,553.9L1439.2,552.1L1448.8,553.3L1447.0,555.5L1441.0,554.8ZM1442.0,558.7L1444.6,558.1L1446.8,561.1L1444.0,562.3ZM1448.8,557.5L1451.8,556.3L1454.2,559.1L1457.8,557.5L1462.7,561.1L1462.1,563.5L1456.0,565.4L1453.6,561.7L1450.4,560.5ZM1448.8,566.3L1451.8,565.1L1452.4,566.6L1450.0,567.2ZM1465.1,572.0L1472.3,575.0L1479.5,577.4L1482.5,583.4L1486.5,587.0L1480.7,591.8L1473.5,594.8L1469.3,599.7L1465.1,597.8L1464.5,593.0L1463.3,587.0L1461.5,582.8L1465.7,577.4Z" fill="#d65799"/>
<path d="M1603.5,567.5L1607.1,562.3L1622.7,562.9L1640.8,563.5L1658.8,566.0L1659.4,569.0L1657.6,574.4L1651.6,579.8L1638.4,582.8L1622.7,581.0L1613.1,582.2L1605.6,581.6L1605.9,573.8ZM1580.2,576.4L1581.4,574.7L1583.6,575.0L1584.6,576.4L1583.0,578.4L1581.2,578.0ZM1659.4,576.2L1668.4,574.4L1668.7,575.7L1661.2,577.4ZM1667.2,568.0L1670.6,568.0L1670.2,569.6L1667.8,569.2Z" fill="#981e7a"/>
</g>
<text x="1519" y="658" font-size="15.35" fill="#000">Data source: 2019 1-year ACS, US Census Bureau</text>
<text x="1876" y="341.2" font-size="19.2" fill="#000">ACS estimate</text>
<rect x="1876.5" y="352" width="29.5" height="149" fill="url(#grdpu)"/>
<path d="M1876.5,353.8h6M1900,353.8h6" stroke="#fff" stroke-opacity="0.7" stroke-width="1"/>
<text x="1916" y="358.8" font-size="14" fill="#000">45</text>
<path d="M1876.5,407h6M1900,407h6" stroke="#fff" stroke-opacity="0.7" stroke-width="1"/>
<text x="1916" y="412" font-size="14" fill="#000">40</text>
<path d="M1876.5,460.5h6M1900,460.5h6" stroke="#fff" stroke-opacity="0.7" stroke-width="1"/>
<text x="1916" y="465.5" font-size="14" fill="#000">35</text>
<rect x="1970" y="120" width="850" height="580" fill="#fff"/>
<!--MAP2-->
<text class="serif" x="1982" y="170" font-size="26.35" fill="#000">Median housing value by State, 2019</text>
<g stroke="#5c5660" stroke-width="0.9" stroke-linejoin="round">
<path d="M2191.5,325.7L2192.8,320.2L2193.5,315.0L2193.4,310.2L2192.5,306.4L2193.6,301.0L2198.3,304.8L2202.5,306.8L2206.1,308.1L2207.4,310.8L2204.1,316.4L2206.4,318.3L2208.7,314.7L2209.9,310.4L2209.7,305.6L2211.1,301.9L2210.0,298.6L2213.8,299.7L2217.6,300.8L2221.5,301.8L2225.3,302.9L2229.1,303.9L2232.9,304.8L2236.8,305.8L2240.6,306.8L2244.5,307.7L2248.3,308.6L2252.2,309.5L2250.9,315.2L2249.6,320.9L2248.3,326.6L2247.0,332.3L2245.7,338.0L2246.0,341.0L2245.6,342.9L2245.6,342.9L2241.5,342.0L2237.5,341.1L2233.5,340.1L2229.4,339.1L2225.4,339.1L2221.2,339.2L2216.3,339.1L2211.4,338.9L2207.0,336.8L2202.6,337.4L2199.5,335.3L2199.7,333.0L2199.4,329.9L2197.7,328.8L2195.7,327.0L2191.5,325.7Z" fill="#ba4e7a"/>
<path d="M2176.1,372.1L2175.5,368.3L2176.1,361.9L2182.2,353.5L2185.9,343.8L2189.8,334.2L2192.1,326.5L2191.5,325.7L2195.7,327.0L2197.7,328.8L2199.4,329.9L2199.7,333.0L2199.5,335.3L2202.6,337.4L2207.0,336.8L2211.4,338.9L2216.3,339.1L2221.2,339.2L2225.4,339.1L2229.4,339.1L2233.5,340.1L2237.5,341.1L2241.5,342.0L2245.6,342.9L2245.6,342.9L2247.8,346.4L2248.1,348.2L2245.8,351.2L2243.6,354.2L2241.4,356.7L2239.5,359.8L2240.8,363.0L2239.3,366.8L2237.8,373.7L2236.2,380.6L2234.6,387.6L2230.4,386.6L2226.2,385.6L2222.0,384.6L2217.8,383.6L2213.6,382.5L2209.4,381.5L2205.2,380.4L2201.0,379.2L2196.9,378.1L2192.7,376.9L2188.6,375.7L2184.4,374.5L2180.3,373.3Z" fill="#ab3e86"/>
<path d="M2176.1,372.1L2180.4,373.3L2184.6,374.6L2188.9,375.8L2193.1,377.1L2197.4,378.2L2201.7,379.4L2206.0,380.6L2210.3,381.7L2208.8,387.3L2207.4,392.8L2205.9,398.4L2204.5,404.0L2203.0,409.6L2201.6,415.2L2205.1,420.9L2208.6,426.5L2212.1,432.1L2215.8,437.7L2219.4,443.3L2223.2,448.9L2227.0,454.5L2230.8,460.0L2234.7,465.6L2238.7,471.1L2239.7,474.8L2241.5,480.2L2238.0,483.3L2236.6,487.1L2234.5,489.0L2235.4,493.9L2232.8,496.7L2227.0,496.1L2221.3,495.4L2215.5,494.7L2209.8,494.0L2209.4,490.2L2209.4,486.0L2205.3,480.4L2201.1,477.6L2201.0,474.2L2194.9,471.3L2192.0,467.6L2184.4,465.0L2183.0,462.9L2184.7,457.4L2180.5,449.1L2177.0,440.9L2177.5,437.5L2179.5,435.6L2178.2,433.4L2175.5,429.7L2175.6,426.1L2177.4,423.0L2178.6,427.0L2179.9,427.3L2179.1,423.5L2178.5,420.9L2176.7,422.2L2172.9,419.3L2173.8,416.0L2169.9,407.6L2170.4,402.9L2171.6,397.2L2169.0,391.0L2169.2,388.6L2173.2,384.4L2173.5,382.1L2175.5,378.5L2175.3,374.8Z" fill="#f1af4f"/>
<path d="M2210.3,381.7L2214.7,382.8L2219.1,383.9L2223.5,385.0L2228.0,386.0L2232.4,387.1L2236.9,388.1L2241.4,389.0L2245.8,390.0L2250.3,390.9L2254.8,391.8L2259.3,392.7L2258.2,398.4L2257.1,404.0L2256.0,409.7L2254.9,415.4L2253.8,421.0L2252.7,426.7L2251.6,432.4L2250.6,438.1L2249.5,443.7L2248.4,449.4L2248.4,449.4L2246.6,458.5L2243.4,458.4L2240.1,459.0L2239.6,464.2L2239.7,468.9L2238.7,471.1L2234.7,465.6L2230.8,460.0L2227.0,454.5L2223.2,448.9L2219.4,443.3L2215.8,437.7L2212.1,432.1L2208.6,426.5L2205.1,420.9L2201.6,415.2L2203.0,409.6L2204.5,404.0L2205.9,398.4L2207.4,392.8L2208.8,387.3Z" fill="#992e92"/>
<path d="M2252.2,309.5L2259.5,311.1L2259.5,311.1L2258.3,316.6L2257.1,322.1L2258.3,327.6L2261.1,331.7L2263.8,336.1L2266.6,339.8L2266.6,342.1L2264.8,345.2L2265.0,348.2L2263.1,351.8L2264.8,353.2L2268.0,351.3L2268.8,353.6L2270.3,360.9L2273.0,366.6L2274.5,367.7L2278.8,366.5L2285.2,367.5L2286.4,365.6L2288.7,369.0L2287.6,376.0L2286.5,383.0L2285.3,390.1L2284.2,397.1L2279.7,396.3L2275.2,395.6L2270.6,394.8L2266.1,394.0L2261.6,393.1L2257.1,392.3L2252.6,391.4L2248.1,390.5L2243.6,389.5L2239.1,388.6L2234.6,387.6L2234.6,387.6L2236.2,380.6L2237.8,373.7L2239.3,366.8L2240.8,363.0L2239.5,359.8L2241.4,356.7L2243.6,354.2L2245.8,351.2L2248.1,348.2L2247.8,346.4L2245.6,342.9L2245.6,342.9L2246.0,341.0L2245.7,338.0L2247.0,332.3L2248.3,326.6L2249.6,320.9L2250.9,315.2L2252.2,309.5Z" fill="#7517a2"/>
<path d="M2288.7,369.0L2286.4,365.6L2285.2,367.5L2278.8,366.5L2274.5,367.7L2273.0,366.6L2270.3,360.9L2268.8,353.6L2268.0,351.3L2264.8,353.2L2263.1,351.8L2265.0,348.2L2264.8,345.2L2266.6,342.1L2266.6,339.8L2263.8,336.1L2261.1,331.7L2258.3,327.6L2257.1,322.1L2258.3,316.6L2259.5,311.1L2263.2,311.8L2266.9,312.6L2270.7,313.4L2274.4,314.1L2278.1,314.8L2281.9,315.5L2285.6,316.1L2289.3,316.8L2293.1,317.4L2296.8,318.0L2300.6,318.6L2304.4,319.2L2308.1,319.7L2311.9,320.3L2315.7,320.8L2319.4,321.3L2323.2,321.7L2327.0,322.2L2330.7,322.6L2334.5,323.0L2338.3,323.4L2342.1,323.8L2345.9,324.2L2349.7,324.5L2349.2,330.1L2348.7,335.8L2348.2,341.4L2347.7,347.1L2347.3,352.8L2346.8,358.5L2346.3,364.2L2345.8,369.9L2341.8,369.5L2337.8,369.2L2333.7,368.8L2329.7,368.3L2325.7,367.9L2321.7,367.4L2317.7,367.0L2313.7,366.5L2309.7,365.9L2305.7,365.4L2301.6,364.8L2297.7,364.3L2293.7,363.7L2289.7,363.0Z" fill="#7416a2"/>
<path d="M2289.7,363.0L2293.7,363.7L2297.7,364.3L2301.6,364.8L2305.7,365.4L2309.7,365.9L2313.7,366.5L2317.7,367.0L2321.7,367.4L2325.7,367.9L2329.7,368.3L2333.7,368.8L2337.8,369.2L2341.8,369.5L2345.8,369.9L2345.3,375.6L2344.8,381.3L2344.4,387.0L2343.9,392.8L2343.4,398.5L2342.9,404.3L2342.4,410.0L2341.9,415.7L2337.7,415.4L2333.4,415.0L2329.1,414.6L2324.9,414.1L2320.6,413.7L2316.3,413.2L2312.1,412.7L2307.8,412.1L2303.6,411.6L2299.4,411.0L2295.1,410.4L2290.9,409.8L2286.6,409.1L2282.4,408.5L2283.3,402.8L2284.2,397.1L2285.1,391.4L2286.0,385.7L2286.9,380.0L2287.9,374.4L2288.8,368.7Z" fill="#6812a2"/>
<path d="M2259.3,392.7L2263.4,393.5L2267.6,394.2L2271.7,395.0L2275.9,395.7L2280.1,396.4L2284.2,397.1L2283.3,402.8L2282.4,408.5L2286.6,409.1L2290.9,409.8L2295.1,410.4L2299.4,411.0L2298.6,416.7L2297.8,422.4L2297.0,428.2L2296.2,433.9L2295.4,439.6L2294.6,445.3L2293.8,451.1L2293.0,456.8L2288.5,456.1L2284.1,455.5L2279.6,454.8L2275.1,454.1L2270.6,453.4L2266.2,452.6L2261.7,451.9L2257.3,451.1L2252.8,450.3L2248.4,449.4L2249.5,443.7L2250.6,438.1L2251.6,432.4L2252.7,426.7L2253.8,421.0L2254.9,415.4L2256.0,409.7L2257.1,404.0L2258.2,398.4Z" fill="#a0338e"/>
<path d="M2299.4,411.0L2303.6,411.6L2307.8,412.1L2312.1,412.7L2316.3,413.2L2320.6,413.7L2324.9,414.1L2329.1,414.6L2333.4,415.0L2337.7,415.4L2341.9,415.7L2346.2,416.1L2350.5,416.4L2354.7,416.7L2359.0,417.0L2358.6,422.8L2358.3,428.5L2357.9,434.3L2357.5,440.1L2357.2,445.8L2356.8,451.6L2356.4,457.4L2356.1,463.1L2351.5,462.8L2347.0,462.5L2342.5,462.2L2338.0,461.8L2333.5,461.4L2329.0,461.0L2324.5,460.5L2320.0,460.1L2315.5,459.6L2311.0,459.1L2306.5,458.5L2302.0,458.0L2297.5,457.4L2293.0,456.8L2293.8,451.1L2294.6,445.3L2295.4,439.6L2296.2,433.9L2297.0,428.2L2297.8,422.4L2298.6,416.7Z" fill="#bd5077"/>
<path d="M2248.4,449.4L2246.6,458.5L2243.4,458.4L2240.1,459.0L2239.6,464.2L2239.7,468.9L2238.7,471.1L2239.7,474.8L2241.5,480.2L2238.0,483.3L2236.6,487.1L2234.5,489.0L2235.4,493.9L2232.8,496.7L2231.4,499.0L2236.1,501.9L2240.8,504.7L2245.5,507.6L2250.2,510.4L2255.0,513.2L2259.8,515.9L2264.6,518.6L2269.5,519.4L2274.3,520.1L2279.2,520.9L2284.1,521.5L2284.9,515.7L2285.7,509.8L2286.5,503.9L2287.3,498.0L2288.1,492.2L2289.0,486.3L2289.8,480.4L2290.6,474.5L2291.4,468.6L2292.2,462.7L2293.0,456.8L2288.5,456.1L2284.1,455.5L2279.6,454.8L2275.1,454.1L2270.6,453.4L2266.2,452.6L2261.7,451.9L2257.3,451.1L2252.8,450.3Z" fill="#7517a1"/>
<path d="M2293.0,456.8L2297.5,457.4L2302.1,458.0L2306.6,458.5L2311.1,459.1L2315.7,459.6L2320.2,460.1L2324.7,460.6L2329.3,461.0L2333.8,461.4L2338.4,461.8L2342.9,462.2L2347.5,462.5L2347.1,468.3L2346.6,474.1L2346.1,479.8L2345.7,485.6L2345.2,491.3L2344.7,497.1L2344.3,502.8L2343.8,508.6L2343.3,514.3L2342.9,520.0L2337.9,519.7L2333.0,519.3L2328.1,518.8L2323.2,518.4L2318.2,517.9L2313.3,517.4L2308.4,516.8L2309.0,519.4L2303.6,518.8L2298.2,518.2L2292.8,517.5L2292.2,522.6L2284.1,521.5L2284.9,515.7L2285.7,509.8L2286.5,503.9L2287.3,498.0L2288.1,492.2L2289.0,486.3L2289.8,480.4L2290.6,474.5L2291.4,468.6L2292.2,462.7Z" fill="#440a9b"/>
<path d="M2349.7,324.5L2353.6,324.8L2357.6,325.1L2361.6,325.4L2365.6,325.7L2369.6,325.9L2373.5,326.1L2377.5,326.3L2381.5,326.5L2385.5,326.6L2389.5,326.8L2393.5,326.9L2397.5,327.0L2401.4,327.0L2402.0,332.7L2402.3,337.2L2404.2,342.9L2404.5,350.9L2406.0,357.7L2406.4,362.0L2402.4,361.9L2398.4,361.9L2394.5,361.8L2390.5,361.7L2386.5,361.6L2382.5,361.4L2378.5,361.2L2374.5,361.1L2370.6,360.9L2366.6,360.6L2362.6,360.4L2358.6,360.1L2354.7,359.8L2350.7,359.5L2346.7,359.2L2347.2,353.4L2347.7,347.6L2348.2,341.8L2348.7,336.0L2349.2,330.2Z" fill="#550d9f"/>
<path d="M2346.7,359.2L2350.7,359.5L2354.7,359.8L2358.6,360.1L2362.6,360.4L2366.6,360.6L2370.6,360.9L2374.5,361.1L2378.5,361.2L2382.5,361.4L2386.5,361.6L2390.5,361.7L2394.5,361.8L2398.4,361.9L2402.4,361.9L2406.4,362.0L2404.0,365.5L2407.2,369.2L2407.1,376.1L2407.1,383.0L2407.1,389.8L2405.8,390.4L2407.1,394.4L2405.8,398.5L2407.0,401.5L2404.9,400.2L2402.4,398.2L2400.0,397.1L2394.9,397.8L2390.0,395.3L2385.8,395.2L2381.6,395.1L2377.4,394.9L2373.2,394.7L2369.0,394.5L2364.8,394.3L2360.6,394.0L2356.4,393.7L2352.2,393.4L2348.1,393.1L2343.9,392.8L2344.4,386.0L2345.0,379.3L2345.6,372.6L2346.2,365.9Z" fill="#470a9b"/>
<path d="M2343.9,392.8L2348.1,393.1L2352.2,393.4L2356.4,393.7L2360.6,394.0L2364.8,394.3L2369.0,394.5L2373.2,394.7L2377.4,394.9L2381.6,395.1L2385.8,395.2L2390.0,395.3L2394.9,397.8L2400.0,397.1L2402.4,398.2L2404.9,400.2L2407.0,401.5L2407.9,404.8L2410.0,410.6L2411.7,415.2L2412.1,421.0L2412.8,423.5L2413.8,426.7L2416.8,430.2L2412.3,430.2L2407.8,430.2L2403.3,430.2L2398.8,430.1L2394.3,430.0L2389.8,429.9L2385.3,429.8L2380.8,429.7L2376.3,429.5L2371.8,429.3L2367.3,429.1L2362.8,428.8L2358.3,428.5L2358.6,422.8L2359.0,417.0L2354.7,416.7L2350.5,416.4L2346.2,416.1L2341.9,415.7L2342.4,410.0L2342.9,404.3L2343.4,398.5Z" fill="#3f0998"/>
<path d="M2358.3,428.5L2362.8,428.8L2367.3,429.1L2371.8,429.3L2376.3,429.5L2380.8,429.7L2385.3,429.8L2389.8,429.9L2394.3,430.0L2398.8,430.1L2403.3,430.2L2407.8,430.2L2412.3,430.2L2416.8,430.2L2419.1,431.7L2420.4,433.0L2418.7,435.4L2420.4,437.7L2423.1,440.3L2423.2,446.4L2423.2,452.5L2423.2,458.7L2423.3,464.8L2418.5,464.8L2413.7,464.9L2408.9,464.9L2404.1,464.9L2399.3,464.8L2394.5,464.7L2389.7,464.6L2384.9,464.5L2380.1,464.3L2375.3,464.1L2370.5,463.9L2365.7,463.7L2360.9,463.4L2356.1,463.1L2356.4,457.4L2356.8,451.6L2357.2,445.8L2357.5,440.1L2357.9,434.3Z" fill="#380996"/>
<path d="M2347.5,462.5L2352.2,462.9L2356.9,463.2L2361.7,463.5L2366.4,463.7L2371.1,464.0L2375.9,464.2L2380.6,464.3L2385.4,464.5L2390.1,464.6L2394.8,464.7L2399.6,464.8L2404.3,464.9L2409.1,464.9L2413.8,464.9L2418.6,464.8L2423.3,464.8L2423.4,470.6L2424.3,476.9L2425.3,483.2L2425.3,490.0L2425.2,496.8L2425.2,503.6L2425.2,503.6L2420.2,500.6L2415.5,500.9L2410.8,502.7L2405.1,501.2L2401.4,502.4L2399.5,500.6L2394.8,499.6L2391.1,497.6L2386.4,497.5L2380.8,495.0L2377.1,494.5L2373.4,492.3L2373.7,484.8L2374.0,477.4L2374.4,469.9L2369.8,469.7L2365.3,469.5L2360.7,469.2L2356.2,468.9L2351.6,468.6L2347.1,468.3Z" fill="#2c0891"/>
<path d="M2347.1,468.3L2351.6,468.6L2356.2,468.9L2360.7,469.2L2365.3,469.5L2369.8,469.7L2374.4,469.9L2374.0,477.4L2373.7,484.8L2373.4,492.3L2377.1,494.5L2380.8,495.0L2386.4,497.5L2391.1,497.6L2394.8,499.6L2399.5,500.6L2401.4,502.4L2405.1,501.2L2410.8,502.7L2415.5,500.9L2420.2,500.6L2425.2,503.6L2429.4,504.5L2429.5,510.6L2429.6,516.5L2429.7,522.4L2431.7,526.9L2434.7,531.7L2433.4,538.4L2433.0,541.8L2432.2,548.7L2423.8,552.3L2418.8,557.5L2410.8,562.1L2404.7,564.9L2399.6,570.0L2397.0,576.3L2396.4,581.9L2398.9,591.5L2398.9,591.5L2395.2,592.7L2388.0,590.3L2378.8,586.1L2375.4,579.1L2375.1,573.4L2367.4,564.0L2364.3,554.7L2357.2,546.6L2348.4,544.8L2344.2,547.2L2339.2,554.6L2331.0,550.2L2326.4,545.7L2323.4,534.5L2318.8,531.2L2311.8,523.6L2309.0,519.4L2308.4,516.8L2313.3,517.4L2318.2,517.9L2323.2,518.4L2328.1,518.8L2333.0,519.3L2337.9,519.7L2342.9,520.0L2343.3,514.3L2343.8,508.6L2344.3,502.8L2344.7,497.1L2345.2,491.3L2345.7,485.6L2346.1,479.8L2346.6,474.1Z" fill="#520c9e"/>
<path d="M2406.4,362.0L2406.0,357.7L2404.5,350.9L2404.2,342.9L2402.3,337.2L2402.0,332.7L2401.4,327.0L2405.4,327.1L2409.4,327.1L2413.3,327.1L2417.3,327.0L2417.2,322.8L2419.7,323.4L2421.2,329.9L2427.6,331.1L2432.2,330.9L2437.6,332.8L2441.5,334.4L2446.3,336.8L2450.8,334.5L2457.0,335.8L2461.0,336.7L2457.2,338.6L2453.4,340.6L2448.3,345.4L2442.3,351.4L2442.1,352.5L2440.0,353.1L2440.3,359.7L2436.7,362.5L2435.6,365.4L2437.7,367.6L2437.2,375.1L2440.9,377.8L2444.3,380.5L2449.4,384.9L2450.3,388.9L2446.0,389.1L2441.6,389.3L2437.3,389.4L2433.0,389.5L2428.7,389.7L2424.4,389.7L2420.0,389.8L2415.7,389.8L2411.4,389.9L2407.1,389.8L2407.1,389.8L2407.1,383.0L2407.1,376.1L2407.2,369.2L2404.0,365.5L2406.4,362.0Z" fill="#6f14a2"/>
<path d="M2407.1,389.8L2411.4,389.9L2415.7,389.8L2420.0,389.8L2424.4,389.7L2428.7,389.7L2433.0,389.5L2437.3,389.4L2441.6,389.3L2446.0,389.1L2450.3,388.9L2451.5,393.4L2451.2,395.7L2455.6,400.1L2460.1,404.5L2459.9,407.9L2458.4,410.9L2452.9,413.0L2452.6,415.3L2454.1,418.1L2452.9,421.0L2450.4,422.9L2450.4,424.9L2447.6,422.3L2443.2,422.6L2438.9,422.8L2434.5,423.0L2430.2,423.1L2425.8,423.2L2421.5,423.4L2417.1,423.4L2412.8,423.5L2412.8,423.5L2412.1,421.0L2411.7,415.2L2410.0,410.6L2407.9,404.8L2407.0,401.5L2407.0,401.5L2405.8,398.5L2407.1,394.4L2405.8,390.4L2407.1,389.8Z" fill="#350994"/>
<path d="M2412.8,423.5L2417.1,423.4L2421.5,423.4L2425.8,423.2L2430.2,423.1L2434.5,423.0L2438.9,422.8L2443.2,422.6L2447.6,422.3L2450.4,424.9L2449.8,427.6L2450.8,430.4L2453.7,434.9L2456.9,438.2L2457.9,441.0L2459.7,440.9L2462.4,442.5L2462.2,445.4L2461.1,449.5L2465.3,452.7L2469.2,456.5L2469.4,460.0L2472.8,462.9L2473.5,466.6L2471.3,468.0L2470.0,468.6L2469.3,471.6L2468.6,474.5L2462.4,474.9L2464.1,469.0L2459.0,469.3L2453.9,469.6L2448.8,469.8L2443.7,470.0L2438.7,470.2L2433.6,470.4L2428.5,470.5L2423.4,470.6L2423.3,464.8L2423.2,458.7L2423.2,452.5L2423.2,446.4L2423.1,440.3L2420.4,437.7L2418.7,435.4L2420.4,433.0L2419.1,431.7L2416.8,430.2L2416.8,430.2L2413.8,426.7L2412.8,423.5Z" fill="#3c0997"/>
<path d="M2423.4,470.6L2428.5,470.5L2433.6,470.4L2438.7,470.2L2443.7,470.0L2448.8,469.8L2453.9,469.6L2459.0,469.3L2464.1,469.0L2462.4,474.9L2468.6,474.5L2466.6,479.9L2465.5,485.1L2463.8,486.4L2463.9,488.1L2461.8,492.3L2458.7,497.1L2457.1,501.8L2456.4,506.4L2457.0,509.9L2451.5,510.1L2446.0,510.3L2440.5,510.4L2435.0,510.5L2429.5,510.6L2429.4,504.5L2425.2,503.6L2425.2,496.8L2425.3,490.0L2425.3,483.2L2424.3,476.9Z" fill="#24088c"/>
<path d="M2429.5,510.6L2435.0,510.5L2440.5,510.4L2446.0,510.3L2451.5,510.1L2457.0,509.9L2457.8,514.4L2459.8,517.2L2457.7,521.9L2455.4,526.1L2454.2,530.7L2453.5,533.1L2459.7,532.8L2465.9,532.4L2472.1,532.0L2471.2,536.1L2473.4,540.0L2474.8,541.3L2472.0,541.8L2468.9,539.7L2466.1,541.6L2469.1,543.1L2473.2,544.0L2476.3,546.1L2474.5,549.7L2478.6,551.1L2480.8,552.7L2476.9,555.2L2473.2,551.5L2469.8,553.4L2466.9,554.7L2460.8,554.5L2457.7,552.4L2452.6,550.3L2448.6,549.9L2440.6,547.9L2432.2,548.7L2432.2,548.7L2433.0,541.8L2433.4,538.4L2434.7,531.7L2431.7,526.9L2429.7,522.4L2429.6,516.5Z" fill="#3f0998"/>
<path d="M2463.8,486.4L2463.9,488.1L2461.8,492.3L2458.7,497.1L2457.1,501.8L2456.4,506.4L2457.0,509.9L2457.8,514.4L2459.8,517.2L2457.7,521.9L2455.4,526.1L2454.2,530.7L2453.5,533.1L2459.7,532.8L2465.9,532.4L2472.1,532.0L2471.2,536.1L2473.4,540.0L2474.8,541.3L2479.7,538.4L2485.7,538.5L2485.0,532.6L2484.3,526.7L2483.6,520.8L2483.7,515.0L2483.8,509.3L2483.9,503.5L2484.1,497.7L2484.2,491.9L2484.3,486.1L2483.2,485.0L2478.4,485.4L2473.5,485.8L2468.6,486.1L2463.8,486.4Z" fill="#1e0888"/>
<path d="M2483.2,485.0L2484.3,486.1L2484.2,491.9L2484.1,497.7L2483.9,503.5L2483.8,509.3L2483.7,515.0L2483.6,520.8L2484.3,526.7L2485.0,532.6L2485.7,538.5L2488.6,538.8L2488.8,534.8L2490.3,534.7L2491.1,538.6L2494.4,538.6L2495.2,534.2L2493.0,532.1L2492.9,530.4L2497.9,530.0L2503.0,529.5L2508.0,528.9L2513.1,528.4L2518.2,527.8L2518.2,527.8L2516.9,521.6L2516.4,513.0L2514.0,506.7L2512.3,500.7L2510.6,494.7L2508.9,488.7L2507.3,482.7L2502.5,483.2L2497.7,483.7L2492.9,484.2L2488.0,484.6Z" fill="#320893"/>
<path d="M2507.3,482.7L2508.9,488.7L2510.6,494.7L2512.3,500.7L2514.0,506.7L2516.4,513.0L2516.9,521.6L2518.2,527.8L2519.9,531.1L2525.1,530.8L2530.4,530.4L2535.6,530.0L2540.8,529.6L2546.0,529.1L2547.8,531.3L2548.1,526.2L2553.0,526.4L2553.5,519.5L2554.2,514.8L2556.5,510.6L2553.5,510.2L2550.2,504.9L2548.6,500.5L2543.6,496.0L2541.0,494.7L2534.9,488.6L2532.1,486.0L2528.5,483.6L2530.4,479.9L2525.7,480.5L2521.1,481.1L2516.5,481.6L2511.9,482.2Z" fill="#530c9e"/>
<path d="M2494.4,538.6L2495.2,534.2L2493.0,532.1L2492.9,530.4L2497.9,530.0L2503.0,529.5L2508.0,528.9L2513.1,528.4L2518.2,527.8L2519.9,531.1L2525.1,530.8L2530.4,530.4L2535.6,530.0L2540.8,529.6L2546.0,529.1L2547.8,531.3L2548.1,526.2L2553.0,526.4L2556.0,535.4L2560.8,543.9L2566.0,550.6L2569.4,558.7L2574.0,567.8L2574.7,573.7L2575.5,579.6L2573.5,586.8L2568.4,588.2L2566.1,586.9L2562.6,581.7L2557.5,579.0L2554.8,574.8L2551.1,570.8L2546.0,564.6L2548.1,560.9L2545.8,559.5L2544.0,560.9L2545.1,554.4L2542.7,547.8L2535.7,541.2L2529.2,536.9L2525.9,539.0L2520.0,543.8L2515.9,543.1L2513.0,538.8L2506.2,536.3L2497.5,537.7L2494.4,538.6ZM2574.4,585.5L2573.3,588.6L2569.1,592.7L2560.2,596.9L2561.9,594.4L2569.4,590.9L2572.5,587.0Z" fill="#6e14a2"/>
<path d="M2530.4,479.9L2536.5,476.7L2542.7,476.0L2548.9,475.4L2549.1,476.5L2550.4,475.7L2552.0,478.7L2557.1,478.0L2562.2,477.3L2568.3,481.7L2574.5,486.1L2571.0,490.3L2569.8,494.7L2566.6,498.1L2563.4,502.2L2559.7,506.3L2556.5,510.6L2556.5,510.6L2553.5,510.2L2550.2,504.9L2548.6,500.5L2543.6,496.0L2541.0,494.7L2534.9,488.6L2532.1,486.0L2528.5,483.6L2530.4,479.9Z" fill="#43099a"/>
<path d="M2540.7,459.8L2540.9,462.6L2538.2,465.9L2533.3,467.8L2529.2,471.3L2524.0,474.3L2521.0,476.4L2519.1,481.3L2524.7,480.6L2530.4,479.9L2536.5,476.7L2542.7,476.0L2548.9,475.4L2549.1,476.5L2550.4,475.7L2552.0,478.7L2557.1,478.0L2562.2,477.3L2568.3,481.7L2574.5,486.1L2580.1,484.9L2583.3,479.2L2590.1,473.1L2591.9,472.5L2594.2,467.6L2598.8,464.8L2598.4,460.7L2594.7,454.5L2593.0,450.7L2588.2,451.7L2583.5,452.6L2578.7,453.5L2574.0,454.4L2569.3,455.2L2564.5,456.1L2559.7,456.9L2555.0,457.6L2550.2,458.4L2545.4,459.1Z" fill="#4d0b9d"/>
<path d="M2463.8,486.4L2463.8,486.4L2465.5,485.1L2466.6,479.9L2468.6,474.5L2468.6,474.5L2469.3,471.6L2470.0,468.6L2476.6,468.2L2483.2,467.6L2482.8,465.6L2487.8,465.3L2492.8,464.9L2497.8,464.5L2502.7,464.1L2507.7,463.7L2512.7,463.2L2517.7,462.8L2522.6,462.2L2527.1,461.7L2531.6,461.1L2536.2,460.5L2540.7,459.8L2540.7,459.8L2540.9,462.6L2538.2,465.9L2533.3,467.8L2529.2,471.3L2524.0,474.3L2521.0,476.4L2519.1,481.3L2513.2,482.0L2507.3,482.7L2502.5,483.2L2497.7,483.7L2492.9,484.2L2488.0,484.6L2483.2,485.0L2478.4,485.4L2473.5,485.8L2468.6,486.1Z" fill="#4c0b9d"/>
<path d="M2470.0,468.6L2471.3,468.0L2473.5,466.6L2472.8,462.9L2474.8,460.2L2479.0,461.0L2478.7,457.6L2481.8,456.1L2481.9,452.7L2485.8,450.6L2490.4,451.9L2492.9,449.7L2495.6,449.7L2497.1,447.2L2500.8,448.5L2501.8,445.3L2504.4,440.0L2509.1,438.5L2508.9,434.8L2511.7,434.5L2514.8,437.6L2519.9,438.9L2525.4,437.1L2529.4,440.1L2529.8,443.0L2533.3,448.5L2536.4,449.3L2530.7,455.9L2522.6,462.2L2517.7,462.8L2512.7,463.2L2507.7,463.7L2502.7,464.1L2497.8,464.5L2492.8,464.9L2487.8,465.3L2482.8,465.6L2483.2,467.6L2476.6,468.2Z" fill="#300992"/>
<path d="M2522.6,462.2L2530.7,455.9L2536.4,449.3L2539.6,452.8L2543.6,451.8L2546.7,450.0L2551.3,447.5L2551.6,443.3L2554.9,434.0L2558.3,435.5L2561.4,430.8L2564.4,422.3L2569.6,425.0L2570.2,422.7L2572.5,424.8L2576.9,426.3L2577.3,428.6L2575.8,432.4L2579.2,433.5L2585.6,435.7L2586.6,440.2L2584.5,443.6L2587.9,446.5L2591.2,446.9L2593.0,450.7L2588.2,451.7L2583.5,452.6L2578.7,453.5L2574.0,454.4L2569.3,455.2L2564.5,456.1L2559.7,456.9L2555.0,457.6L2550.2,458.4L2545.4,459.1L2540.7,459.8L2536.2,460.5L2531.6,461.1L2527.1,461.7ZM2590.2,444.2L2589.6,439.6L2589.6,434.9L2594.7,432.8L2592.7,438.9L2591.1,444.4Z" fill="#89219c"/>
<path d="M2536.4,449.3L2533.3,448.5L2529.8,443.0L2529.4,440.1L2531.8,438.2L2532.3,435.2L2534.7,433.7L2535.7,431.2L2537.0,428.1L2541.4,425.1L2542.4,423.2L2543.5,416.0L2543.5,412.0L2545.2,422.5L2549.7,421.7L2554.2,421.0L2555.2,426.9L2558.0,423.4L2560.7,421.2L2563.7,420.4L2565.2,419.2L2568.4,419.7L2570.2,422.7L2569.6,425.0L2564.4,422.3L2561.4,430.8L2558.3,435.5L2554.9,434.0L2551.6,443.3L2551.3,447.5L2546.7,450.0L2543.6,451.8L2539.6,452.8L2536.4,449.3Z" fill="#1a0887"/>
<path d="M2508.9,434.8L2511.7,434.5L2514.8,437.6L2519.9,438.9L2525.4,437.1L2529.4,440.1L2531.8,438.2L2532.3,435.2L2534.7,433.7L2535.7,431.2L2537.0,428.1L2541.4,425.1L2542.4,423.2L2543.5,416.0L2543.5,412.0L2542.3,404.4L2541.0,396.7L2537.2,398.9L2532.0,403.8L2525.4,405.9L2521.0,405.3L2516.9,403.2L2511.2,404.1L2505.6,405.0L2506.3,411.0L2506.9,416.9L2507.6,422.9L2508.3,428.9Z" fill="#350894"/>
<path d="M2482.5,406.7L2485.4,407.7L2488.5,406.1L2492.7,405.7L2497.0,405.3L2501.2,404.8L2505.5,404.3L2506.2,410.4L2506.9,416.5L2507.6,422.6L2508.2,428.7L2508.9,434.8L2509.1,438.5L2504.4,440.0L2501.8,445.3L2500.8,448.5L2497.1,447.2L2495.6,449.7L2492.9,449.7L2490.4,451.9L2485.8,450.6L2481.9,452.7L2481.9,452.7L2482.4,448.0L2483.9,444.9L2485.8,441.3L2485.0,434.4L2484.3,427.5L2483.7,420.5L2483.1,413.6Z" fill="#340894"/>
<path d="M2455.6,400.1L2460.1,404.5L2459.9,407.9L2458.4,410.9L2452.9,413.0L2452.6,415.3L2454.1,418.1L2452.9,421.0L2450.4,422.9L2450.4,424.9L2449.8,427.6L2450.8,430.4L2453.7,434.9L2456.9,438.2L2457.9,441.0L2459.7,440.9L2462.4,442.5L2462.2,445.4L2461.1,449.5L2465.3,452.7L2469.2,456.5L2469.4,460.0L2472.8,462.9L2474.8,460.2L2479.0,461.0L2478.7,457.6L2481.8,456.1L2481.9,452.7L2481.9,452.7L2482.4,448.0L2483.9,444.9L2485.8,441.3L2485.0,434.4L2484.3,427.5L2483.7,420.5L2483.1,413.6L2482.5,406.7L2481.8,405.7L2479.5,398.5L2474.7,398.9L2469.9,399.2L2465.2,399.6L2460.4,399.8Z" fill="#570da0"/>
<path d="M2442.1,352.5L2440.0,353.1L2440.3,359.7L2436.7,362.5L2435.6,365.4L2437.7,367.6L2437.2,375.1L2440.9,377.8L2444.3,380.5L2449.4,384.9L2450.3,388.9L2451.5,393.4L2451.2,395.7L2455.6,400.1L2460.4,399.8L2465.2,399.6L2469.9,399.2L2474.7,398.9L2479.5,398.5L2478.0,390.4L2478.9,382.3L2479.7,377.6L2481.4,371.7L2483.1,365.8L2480.3,370.6L2475.8,375.1L2478.5,368.6L2478.5,368.6L2478.1,368.5L2476.3,365.8L2473.7,359.5L2468.5,358.8L2465.6,357.7L2461.5,356.9L2457.5,356.0L2455.0,353.4L2452.6,352.6L2451.2,349.3L2448.5,350.5Z" fill="#4f0b9e"/>
<path d="M2455.0,353.4L2457.5,356.0L2461.5,356.9L2465.6,357.7L2468.5,358.8L2473.7,359.5L2476.3,365.8L2478.1,368.5L2478.5,368.6L2482.0,363.0L2482.2,360.7L2485.1,361.0L2488.0,358.4L2494.1,355.7L2500.6,357.3L2504.6,355.9L2509.3,355.3L2506.7,353.4L2504.9,352.4L2502.6,349.8L2499.9,350.4L2497.6,347.4L2493.4,348.6L2488.3,349.5L2484.2,352.5L2478.7,352.4L2476.0,348.6L2471.6,347.9L2470.1,349.7L2471.7,345.0L2473.8,341.7L2469.3,344.6L2464.9,348.0L2459.5,350.2ZM2500.5,358.4L2505.0,359.6L2511.4,362.2L2513.1,365.8L2514.1,373.2L2509.9,378.4L2510.3,381.8L2513.9,377.8L2517.4,376.0L2520.8,379.8L2523.5,387.5L2523.5,392.2L2520.5,394.9L2519.0,396.9L2518.6,399.9L2516.9,403.2L2511.2,404.1L2505.6,405.0L2505.5,404.3L2501.2,404.8L2497.0,405.3L2492.7,405.7L2488.5,406.1L2489.9,402.1L2492.3,396.0L2491.7,390.3L2489.0,384.2L2488.9,379.0L2489.8,372.0L2491.2,369.6L2494.4,365.8L2494.9,370.3L2496.4,365.0L2499.0,362.9L2498.7,360.1Z" fill="#3d0997"/>
<path d="M2541.0,396.7L2546.8,392.4L2547.3,395.4L2551.9,394.6L2556.5,393.8L2561.0,392.9L2565.6,392.1L2570.2,391.1L2574.7,390.2L2579.3,389.2L2583.8,388.3L2586.4,390.0L2590.8,394.3L2588.5,399.6L2588.5,403.2L2593.4,407.4L2591.2,411.5L2588.9,413.1L2587.1,413.2L2585.8,414.8L2581.3,415.7L2576.8,416.7L2572.3,417.6L2567.8,418.4L2563.3,419.3L2558.8,420.1L2554.3,420.9L2549.8,421.7L2545.2,422.5L2544.2,416.0L2543.1,409.6L2542.1,403.2Z" fill="#4c0b9d"/>
<path d="M2546.8,392.4L2552.7,384.5L2550.6,380.0L2556.5,378.9L2562.4,377.8L2568.9,376.1L2573.1,372.3L2572.3,368.4L2570.6,366.4L2574.2,361.5L2577.2,356.2L2581.5,353.4L2586.8,352.1L2592.1,350.8L2594.2,359.3L2595.5,366.6L2597.0,367.5L2598.9,375.9L2598.9,384.2L2601.1,392.5L2600.5,396.3L2598.7,398.1L2598.4,396.8L2590.8,394.3L2586.4,390.0L2583.8,388.3L2579.3,389.2L2574.7,390.2L2570.2,391.1L2565.6,392.1L2561.0,392.9L2556.5,393.8L2551.9,394.6L2547.3,395.4ZM2598.4,401.5L2600.1,398.1L2605.2,395.7L2611.3,391.8L2614.9,391.8L2610.5,395.6L2604.4,399.7L2598.7,401.8Z" fill="#a4378b"/>
<path d="M2590.8,394.3L2598.4,396.8L2598.1,401.0L2596.8,403.1L2599.1,403.1L2600.1,411.2L2598.4,415.7L2595.3,422.0L2592.0,419.0L2588.1,415.7L2588.9,413.1L2591.2,411.5L2593.4,407.4L2588.5,403.2L2588.5,399.6L2590.8,394.3Z" fill="#a93b88"/>
<path d="M2585.8,414.8L2587.1,413.2L2588.9,413.1L2588.1,415.7L2590.6,421.0L2594.0,423.9L2595.3,427.7L2589.6,428.8L2587.7,421.8Z" fill="#7918a0"/>
<path d="M2554.2,421.0L2558.7,420.1L2563.2,419.3L2567.7,418.5L2572.3,417.6L2576.8,416.7L2581.3,415.7L2585.8,414.8L2587.7,421.8L2589.6,428.8L2595.3,427.7L2594.7,432.8L2589.6,434.9L2587.5,431.8L2584.1,428.4L2583.8,423.7L2583.9,419.0L2583.9,417.2L2582.0,420.5L2582.1,425.2L2583.5,430.8L2584.9,434.7L2579.2,433.5L2575.8,432.4L2577.3,428.6L2576.9,426.3L2572.5,424.8L2570.2,422.7L2570.2,422.7L2568.4,419.7L2565.2,419.2L2563.7,420.4L2560.7,421.2L2558.0,423.4L2555.2,426.9Z" fill="#a1348d"/>
<path d="M2598.9,384.2L2603.6,383.2L2608.3,382.1L2612.9,381.0L2614.7,387.9L2614.5,388.9L2610.3,390.5L2606.1,391.9L2600.5,396.3L2601.1,392.5Z" fill="#841f9c"/>
<path d="M2612.9,381.0L2616.4,380.1L2616.7,381.5L2618.9,383.9L2620.0,385.4L2617.9,386.5L2614.5,388.9L2614.7,387.9Z" fill="#86209c"/>
<path d="M2598.9,375.9L2605.5,374.5L2610.3,373.4L2615.0,372.4L2617.3,369.6L2619.2,371.9L2620.8,371.4L2618.5,375.6L2621.4,376.6L2623.3,379.1L2624.3,381.0L2628.3,379.5L2627.5,376.7L2625.8,376.8L2629.1,380.8L2623.8,384.1L2623.2,381.9L2620.0,385.4L2618.9,383.9L2616.7,381.5L2616.4,380.1L2612.9,381.0L2608.3,382.1L2603.6,383.2L2598.9,384.2Z" fill="#c75c6f"/>
<path d="M2592.1,350.8L2597.0,349.6L2601.8,348.4L2606.6,347.1L2607.4,351.8L2604.9,358.4L2603.9,364.6L2604.8,371.4L2605.5,374.5L2598.9,375.9L2597.0,367.5L2595.5,366.6L2594.2,359.3Z" fill="#6711a1"/>
<path d="M2605.5,374.5L2604.8,371.4L2603.9,364.6L2604.9,358.4L2607.4,351.8L2606.6,347.1L2606.7,344.3L2609.0,343.1L2610.8,348.5L2612.6,354.0L2615.7,364.4L2618.7,367.0L2618.4,369.4L2617.3,369.6L2615.0,372.4L2610.3,373.4Z" fill="#851f9c"/>
<path d="M2618.7,367.0L2615.7,364.4L2612.6,354.0L2610.8,348.5L2609.0,343.1L2611.0,343.1L2612.9,336.7L2613.0,332.5L2613.6,328.8L2615.1,322.1L2616.5,315.4L2618.4,315.5L2623.8,314.5L2628.6,316.4L2630.6,322.8L2632.5,329.2L2636.1,331.7L2637.4,336.0L2641.9,338.2L2642.7,339.2L2638.6,344.1L2634.6,347.7L2629.6,348.0L2629.8,351.5L2628.5,353.1L2623.8,357.4L2621.1,360.0L2619.2,364.1Z" fill="#520c9e"/>
<path d="M2121.7,196.7L2124.8,198.4L2130.5,199.8L2134.9,201.1L2141.9,201.9L2147.1,201.3L2152.8,203.3L2162.9,254.9L2167.7,254.6L2169.4,257.9L2175.1,261.4L2177.3,256.2L2179.5,255.3L2184.7,260.1L2190.9,265.8L2195.2,269.7L2200.5,269.6L2202.7,272.8L2202.7,276.7L2197.9,278.0L2196.1,280.2L2192.2,278.5L2189.1,275.4L2185.6,272.8L2182.5,269.3L2179.0,264.9L2175.1,262.7L2170.7,260.1L2166.4,258.4L2162.9,257.7L2157.6,257.9L2152.4,257.5L2147.1,258.4L2144.1,261.0L2140.1,261.9L2135.7,264.9L2133.1,265.8L2132.7,263.2L2134.0,258.4L2137.9,254.4L2135.7,254.0L2133.1,256.6L2131.4,261.0L2127.9,264.5L2126.1,268.0L2123.5,272.4L2118.2,275.9L2113.0,278.5L2107.8,281.1L2101.6,282.9L2096.4,286.4L2091.1,288.5L2090.7,289.9L2085.9,291.2L2083.3,293.4L2078.0,294.7L2074.5,296.4L2073.6,296.0L2078.0,293.4L2083.3,291.2L2090.3,288.1L2095.5,285.5L2101.6,282.0L2106.9,279.8L2112.1,276.3L2115.6,272.4L2117.4,268.0L2113.0,268.9L2108.6,266.7L2106.0,267.5L2103.4,267.1L2104.3,262.7L2101.6,259.2L2097.3,259.2L2095.1,254.9L2094.2,249.6L2097.3,245.2L2100.3,241.3L2105.1,239.6L2108.6,239.1L2109.9,233.0L2105.1,233.4L2100.8,232.6L2096.4,231.2L2095.9,227.7L2093.3,225.3L2099.9,222.1L2103.8,221.6L2105.1,224.7L2109.5,225.1L2107.8,220.7L2105.1,217.2L2103.4,213.7L2099.9,210.7L2101.6,208.1L2106.9,207.6L2108.6,203.7L2111.2,201.1L2116.5,198.9L2119.6,198.4ZM2124.4,275.9L2130.5,270.6L2133.1,271.0L2131.4,275.9L2125.7,280.2ZM2081.5,234.3L2085.0,234.7L2088.9,238.2L2085.9,239.1L2083.3,236.9ZM2088.9,256.2L2093.3,255.6L2093.3,258.8L2090.7,259.2ZM2073.6,249.6L2075.8,252.2L2075.4,252.4L2073.5,250.1ZM2061.4,296.4L2057.9,295.8L2056.1,294.7L2049.1,293.8L2042.1,291.8L2042.6,292.9L2048.7,294.7L2055.7,295.5L2059.6,297.0ZM2039.1,293.4L2037.8,294.2L2039.5,293.9ZM2032.5,290.7L2030.3,286.4L2030.9,286.4L2033.8,291.2ZM2027.3,285.5L2029.5,284.6L2029.0,285.5ZM2018.5,275.9L2015.5,272.4L2016.8,272.8L2020.1,276.3ZM2066.6,296.4L2073.2,294.7L2073.6,295.3L2067.1,296.9ZM2120.9,284.2L2122.2,284.6L2121.3,285.5ZM2076.3,271.0L2077.6,270.9L2077.1,271.7ZM2077.6,274.5L2078.9,274.7L2078.0,275.2Z" fill="#851f9c"/>
<path d="M2105.9,510.6L2108.8,507.2L2107.8,509.6ZM2113.2,506.7L2116.2,504.0L2120.6,503.7L2121.6,505.7L2120.6,509.1L2118.2,510.1L2115.2,508.9ZM2137.8,515.0L2142.2,512.6L2144.7,516.0L2147.4,519.5L2145.2,520.4L2140.7,519.5ZM2153.0,522.4L2155.0,520.9L2162.8,521.9L2161.4,523.7L2156.5,523.1ZM2157.2,526.3L2159.4,525.8L2161.2,528.3L2158.9,529.3ZM2162.8,525.3L2165.3,524.4L2167.3,526.6L2170.2,525.3L2174.1,528.3L2173.6,530.3L2168.7,531.7L2166.8,528.8L2164.1,527.8ZM2162.8,532.5L2165.3,531.5L2165.8,532.7L2163.8,533.2ZM2176.1,537.1L2182.0,539.6L2187.9,541.5L2190.3,546.5L2193.6,549.4L2188.9,553.3L2183.0,555.8L2179.5,559.7L2176.1,558.2L2175.6,554.3L2174.6,549.4L2173.1,546.0L2176.6,541.5Z" fill="#f2f457"/>
<path d="M2597.4,608.6L2600.4,604.4L2613.1,604.9L2627.9,605.4L2642.6,607.3L2643.1,609.8L2641.6,614.2L2636.7,618.6L2625.9,621.1L2613.1,619.6L2605.3,620.6L2599.2,620.1L2599.4,613.7ZM2578.5,615.9L2579.4,614.5L2581.2,614.7L2582.0,615.9L2580.7,617.4L2579.3,617.1ZM2643.1,615.7L2650.4,614.2L2650.6,615.3L2644.6,616.6ZM2649.5,609.0L2652.2,609.0L2651.9,610.3L2650.0,610.0Z" fill="#0c0881"/>
</g>
<text class="serif" x="2248.4" y="665" font-size="17.55" fill="#000">Data source: 2019 1-year ACS, US Census Bureau</text>
<text class="serif" x="2696.5" y="324.7" font-size="21.75" fill="#000">ACS estimate</text>
<rect x="2696.5" y="337.8" width="34.3" height="171.9" fill="url(#gplasma)"/>
<path d="M2696.5,361h7M2723.8,361h7" stroke="#fff" stroke-opacity="0.7" stroke-width="1"/>
<text class="serif" x="2742" y="366.5" font-size="17" fill="#000">$600,000</text>
<path d="M2696.5,391.4h7M2723.8,391.4h7" stroke="#fff" stroke-opacity="0.7" stroke-width="1"/>
<text class="serif" x="2742" y="396.9" font-size="17" fill="#000">$500,000</text>
<path d="M2696.5,421.9h7M2723.8,421.9h7" stroke="#fff" stroke-opacity="0.7" stroke-width="1"/>
<text class="serif" x="2742" y="427.4" font-size="17" fill="#000">$400,000</text>
<path d="M2696.5,452.3h7M2723.8,452.3h7" stroke="#fff" stroke-opacity="0.7" stroke-width="1"/>
<text class="serif" x="2742" y="457.8" font-size="17" fill="#000">$300,000</text>
<path d="M2696.5,482.8h7M2723.8,482.8h7" stroke="#fff" stroke-opacity="0.7" stroke-width="1"/>
<text class="serif" x="2742" y="488.3" font-size="17" fill="#000">$200,000</text>
<!--MAP3-->
<clipPath id="cnty"><path d="M1267.4,1347.8L1268.3,1213.3L1268.9,1086.8L1270.4,1085.3L1269.6,1079.3L1272.2,1075.0L1271.1,1070.7L1275.4,1067.5L1274.3,1062.1L1276.4,1060.0L1270.3,1078.4L1272.9,1068.8L1277.2,1060.2L1275.0,1052.7L1279.3,1051.2L1287.9,1057.0L1298.6,1053.8L1306.1,1043.1L1310.4,1038.8L1309.8,1027.6L1312.5,1025.9L1314.7,1015.2L1320.0,1000.2L1330.8,986.2L1339.3,974.4L1341.5,968.0L1350.1,958.3L1356.5,951.9L1360.8,946.1L1367.2,944.8L1375.8,940.1L1383.3,941.8L1390.8,938.0L1399.4,933.7L1408.0,924.0L1409.7,916.5L1408.0,906.9L1399.4,899.4L1393.0,891.9L1387.6,882.2L1387.6,874.7L1393.0,871.1L1400.5,869.3L1403.7,861.8L1409.0,854.3L1413.3,854.3L1416.6,861.8L1420.8,865.1L1425.1,862.9L1424.1,855.4L1435.9,853.3L1439.1,854.3L1442.3,851.1L1448.7,850.0L1450.9,856.5L1456.2,856.5L1459.4,851.1L1458.4,843.6L1461.6,841.5L1463.7,846.2L1476.6,841.5L1487.3,836.1L1493.8,828.6L1497.0,829.7L1502.3,828.6L1508.8,824.3L1514.1,819.0L1522.7,821.1L1527.0,832.9L1531.3,832.9L1532.4,824.3L1535.6,820.0L1537.7,811.4L1544.2,808.2L1543.1,802.9L1537.7,801.8L1536.6,797.5L1536.4,797.5L1545.0,798.6L1557.9,803.9L1563.2,813.6L1575.0,828.6L1593.3,829.7L1606.1,836.1L1624.4,843.6L1634.0,841.5L1643.7,849.0L1650.1,860.8L1656.5,870.4L1669.4,880.1L1684.4,891.9L1699.4,901.5L1714.4,907.5L1723.0,918.7L1731.6,930.5L1746.6,943.3L1757.3,949.8L1768.0,957.3L1773.4,968.0L1782.0,978.7L1785.2,989.4L1786.3,998.0L1795.9,1006.6L1803.4,1017.3L1802.4,1034.5L1801.3,1047.3L1802.4,1058.1L1801.3,1068.8L1801.8,1060.0L1798.6,1081.4L1800.7,1098.6L1801.8,1111.4L1799.0,1123.7L1881.1,1123.7L1881.8,1248.6L1887.5,1259.4L1889.7,1285.1L1888.6,1306.5L1890.8,1322.6L1899.3,1328.0L1902.6,1338.7L1914.3,1343.0L1913.3,1351.5L1907.9,1349.4L1902.6,1359.9L1901.1,1333.1L1907.3,1342.4L1914.3,1344.0L1913.5,1350.2L1908.9,1353.3L1914.3,1361.1L1912.0,1365.7L1902.7,1371.9L1901.1,1379.7L1890.2,1389.0L1892.6,1395.2L1885.6,1407.6L1881.7,1421.6L1876.3,1427.8L1867.0,1431.7L1868.5,1439.5L1854.5,1445.7L1849.9,1452.7L1842.1,1460.4L1832.8,1470.5L1817.3,1475.2L1800.2,1479.1L1790.9,1488.4L1784.7,1491.5L1775.3,1497.7L1762.9,1500.8L1753.6,1502.4L1747.4,1505.5L1739.6,1514.0L1733.4,1513.2L1728.8,1505.5L1723.3,1503.1L1720.2,1515.6L1715.6,1514.8L1713.2,1508.6L1705.5,1510.1L1692.3,1515.6L1687.6,1494.6L1683.7,1491.5L1673.6,1493.0L1666.6,1485.3L1658.9,1479.1L1648.0,1478.3L1637.1,1473.6L1627.0,1469.8L1623.2,1477.5L1617.0,1483.0L1607.6,1483.7L1601.4,1479.1L1592.1,1481.4L1581.2,1480.6L1576.6,1478.3L1568.8,1481.4L1564.9,1475.2L1561.1,1474.4L1557.2,1480.6L1548.6,1481.4L1538.5,1485.3L1538.5,1347.9L1535.9,1347.8Z"/></clipPath>
<path d="M1267.4,1347.8L1268.3,1213.3L1268.9,1086.8L1270.4,1085.3L1269.6,1079.3L1272.2,1075.0L1271.1,1070.7L1275.4,1067.5L1274.3,1062.1L1276.4,1060.0L1270.3,1078.4L1272.9,1068.8L1277.2,1060.2L1275.0,1052.7L1279.3,1051.2L1287.9,1057.0L1298.6,1053.8L1306.1,1043.1L1310.4,1038.8L1309.8,1027.6L1312.5,1025.9L1314.7,1015.2L1320.0,1000.2L1330.8,986.2L1339.3,974.4L1341.5,968.0L1350.1,958.3L1356.5,951.9L1360.8,946.1L1367.2,944.8L1375.8,940.1L1383.3,941.8L1390.8,938.0L1399.4,933.7L1408.0,924.0L1409.7,916.5L1408.0,906.9L1399.4,899.4L1393.0,891.9L1387.6,882.2L1387.6,874.7L1393.0,871.1L1400.5,869.3L1403.7,861.8L1409.0,854.3L1413.3,854.3L1416.6,861.8L1420.8,865.1L1425.1,862.9L1424.1,855.4L1435.9,853.3L1439.1,854.3L1442.3,851.1L1448.7,850.0L1450.9,856.5L1456.2,856.5L1459.4,851.1L1458.4,843.6L1461.6,841.5L1463.7,846.2L1476.6,841.5L1487.3,836.1L1493.8,828.6L1497.0,829.7L1502.3,828.6L1508.8,824.3L1514.1,819.0L1522.7,821.1L1527.0,832.9L1531.3,832.9L1532.4,824.3L1535.6,820.0L1537.7,811.4L1544.2,808.2L1543.1,802.9L1537.7,801.8L1536.6,797.5L1536.4,797.5L1545.0,798.6L1557.9,803.9L1563.2,813.6L1575.0,828.6L1593.3,829.7L1606.1,836.1L1624.4,843.6L1634.0,841.5L1643.7,849.0L1650.1,860.8L1656.5,870.4L1669.4,880.1L1684.4,891.9L1699.4,901.5L1714.4,907.5L1723.0,918.7L1731.6,930.5L1746.6,943.3L1757.3,949.8L1768.0,957.3L1773.4,968.0L1782.0,978.7L1785.2,989.4L1786.3,998.0L1795.9,1006.6L1803.4,1017.3L1802.4,1034.5L1801.3,1047.3L1802.4,1058.1L1801.3,1068.8L1801.8,1060.0L1798.6,1081.4L1800.7,1098.6L1801.8,1111.4L1799.0,1123.7L1881.1,1123.7L1881.8,1248.6L1887.5,1259.4L1889.7,1285.1L1888.6,1306.5L1890.8,1322.6L1899.3,1328.0L1902.6,1338.7L1914.3,1343.0L1913.3,1351.5L1907.9,1349.4L1902.6,1359.9L1901.1,1333.1L1907.3,1342.4L1914.3,1344.0L1913.5,1350.2L1908.9,1353.3L1914.3,1361.1L1912.0,1365.7L1902.7,1371.9L1901.1,1379.7L1890.2,1389.0L1892.6,1395.2L1885.6,1407.6L1881.7,1421.6L1876.3,1427.8L1867.0,1431.7L1868.5,1439.5L1854.5,1445.7L1849.9,1452.7L1842.1,1460.4L1832.8,1470.5L1817.3,1475.2L1800.2,1479.1L1790.9,1488.4L1784.7,1491.5L1775.3,1497.7L1762.9,1500.8L1753.6,1502.4L1747.4,1505.5L1739.6,1514.0L1733.4,1513.2L1728.8,1505.5L1723.3,1503.1L1720.2,1515.6L1715.6,1514.8L1713.2,1508.6L1705.5,1510.1L1692.3,1515.6L1687.6,1494.6L1683.7,1491.5L1673.6,1493.0L1666.6,1485.3L1658.9,1479.1L1648.0,1478.3L1637.1,1473.6L1627.0,1469.8L1623.2,1477.5L1617.0,1483.0L1607.6,1483.7L1601.4,1479.1L1592.1,1481.4L1581.2,1480.6L1576.6,1478.3L1568.8,1481.4L1564.9,1475.2L1561.1,1474.4L1557.2,1480.6L1548.6,1481.4L1538.5,1485.3L1538.5,1347.9L1535.9,1347.8Z" fill="#f1eff6"/>
<g clip-path="url(#cnty)" stroke="#6c6c6e" stroke-width="1.05" stroke-linejoin="round" fill="none">
<path d="M1461.6,846.2L1476.6,841.5L1487.3,836.1L1493.8,828.6L1497.0,829.7L1502.3,828.6L1508.8,824.3L1514.1,819.0L1522.7,821.1L1527.0,832.9L1531.3,832.9L1532.4,824.3L1535.6,820.0L1537.3,811.4L1537.3,925.1L1532.4,918.7L1528.1,905.8L1513.1,888.6L1495.9,873.6Z" fill="#d7d6e8"/>
<path d="M1537.3,797.5L1560.0,797.5L1560.0,942.7L1537.3,942.7Z" fill="#d7d6e8"/>
<path d="M1537.7,1060.0L1555.0,1060.0L1555.0,1124.3L1537.7,1114.7Z" fill="#d7d6e8"/>
<path d="M1537.7,1157.6L1555.0,1157.6L1555.0,1208.0L1550.9,1211.2L1544.5,1206.9L1537.7,1208.0Z" fill="#d7d6e8"/>
<path d="M1536.4,1316.3L1555.0,1318.4L1555.0,1346.3L1536.4,1346.3Z" fill="#aba9d1"/>
<path d="M1537.5,811.4L1537.5,797.5L1545.0,798.6L1557.9,803.9L1563.2,813.6L1575.0,828.6L1593.3,829.7L1606.1,836.1L1624.4,843.6L1634.0,841.5L1643.7,849.0L1645.8,852.2L1645.8,942.7L1537.5,942.7Z" fill="#d7d6e8"/>
<path d="M1645.8,852.2L1650.1,860.8L1656.5,870.4L1669.4,880.1L1684.4,891.9L1699.4,901.5L1714.4,907.5L1723.0,918.7L1731.6,930.5L1746.6,943.3L1645.8,942.7Z" fill="#aba9d1"/>
<path d="M1537.5,942.7L1669.4,942.7L1669.4,1077.4L1537.5,1077.4Z" fill="#d7d6e8"/>
<path d="M1537.5,943.3L1555.7,943.3L1562.2,957.3L1575.0,980.9L1569.7,983.0L1568.6,998.0L1537.5,998.0Z" fill="#aba9d1"/>
<path d="M1608.9,988.4L1624.4,988.4L1622.2,1016.2L1608.9,1016.2Z" fill="#aba9d1"/>
<path d="M1624.4,988.4L1656.5,990.5L1665.1,999.1L1668.3,1006.6L1668.3,1010.9L1637.2,1010.9L1622.2,1016.2Z" fill="#aba9d1"/>
<path d="M1655.5,988.4L1682.7,988.4L1680.1,1006.6L1669.4,1007.7L1665.1,999.1Z" fill="#aba9d1"/>
<path d="M1605.1,1017.3L1622.2,1016.2L1637.2,1010.9L1668.3,1010.9L1668.3,1049.5L1637.2,1040.9L1620.1,1039.8L1611.5,1025.9Z" fill="#aba9d1"/>
<path d="M1620.1,1039.8L1636.2,1039.8L1636.2,1076.3L1620.1,1076.3Z" fill="#807dba"/>
<path d="M1611.5,1025.9L1620.1,1039.8L1620.1,1076.3L1615.8,1073.1L1607.2,1068.8L1602.9,1058.1L1611.5,1047.3L1609.3,1032.3Z" fill="#aba9d1"/>
<path d="M1605.1,1019.5L1609.3,1032.3L1611.5,1047.3L1602.9,1058.1L1601.8,1060.6L1586.8,1059.1L1586.8,1032.3L1594.3,1030.2L1596.5,1020.5Z" fill="#f1eff6"/>
<path d="M1547.2,1000.2L1568.6,998.0L1569.7,983.0L1575.0,980.9L1583.6,1000.2L1594.3,1010.9L1605.1,1017.3L1596.5,1020.5L1584.7,1013.0L1570.7,1010.9L1569.7,1017.3L1557.9,1017.3L1549.3,1013.0Z" fill="#aba9d1"/>
<path d="M1669.4,944.4L1746.6,943.3L1757.3,949.8L1768.0,957.3L1773.4,968.0L1782.0,978.7L1785.2,989.4L1786.3,998.0L1795.9,1006.6L1801.3,1009.8L1669.4,1009.8Z" fill="#807dba"/>
<path d="M1655.5,988.4L1682.7,988.4L1680.1,1006.6L1669.4,1007.7L1665.1,999.1Z" fill="#aba9d1"/>
<path d="M1669.4,1009.8L1801.3,1009.8L1803.4,1017.3L1802.4,1034.5L1801.3,1047.3L1802.4,1058.1L1801.3,1068.8L1798.1,1090.0L1669.4,1090.0Z" fill="#5b3f98"/>
<path d="M1726.2,1062.4L1744.5,1062.4L1750.9,1075.2L1726.2,1076.3Z" fill="#807dba"/>
<path d="M1783.1,1072.0L1799.1,1072.0L1798.1,1090.0L1778.8,1090.0Z" fill="#807dba"/>
<path d="M1693.0,1082.7L1701.6,1079.5L1735.9,1079.5L1735.9,1090.0L1693.0,1090.0Z" fill="#807dba"/>
<path d="M1537.5,1077.5L1668.3,1077.5L1668.3,1102.2L1647.9,1103.2L1614.7,1106.5L1612.6,1110.7L1612.6,1134.3L1594.3,1132.2L1581.5,1130.0L1566.5,1145.1L1537.5,1115.0Z" fill="#d7d6e8"/>
<path d="M1613.6,1106.5L1647.5,1104.3L1647.5,1126.8L1624.4,1131.1L1612.6,1134.3Z" fill="#f1eff6"/>
<path d="M1647.9,1103.2L1669.4,1103.2L1669.4,1126.8L1647.9,1126.8Z" fill="#aba9d1"/>
<path d="M1647.9,1127.9L1669.4,1127.9L1669.4,1144.0L1647.9,1144.0Z" fill="#807dba"/>
<path d="M1537.5,1156.9L1552.5,1156.9L1557.9,1172.9L1559.0,1209.4L1537.5,1207.3Z" fill="#d7d6e8"/>
<path d="M1553.6,1152.6L1569.7,1147.2L1570.7,1186.9L1586.8,1194.4L1568.6,1198.7L1567.5,1211.5L1559.0,1209.4L1557.9,1172.9Z" fill="#d7d6e8"/>
<path d="M1569.7,1147.2L1581.5,1160.1L1592.2,1160.1L1592.2,1182.6L1570.7,1186.9Z" fill="#807dba"/>
<path d="M1581.5,1130.0L1594.3,1132.2L1611.5,1134.3L1609.3,1151.5L1620.1,1162.2L1626.5,1175.1L1627.6,1184.7L1614.7,1189.0L1612.6,1199.7L1606.1,1203.0L1604.0,1183.7L1602.9,1178.3L1593.3,1177.2L1592.2,1160.1L1581.5,1160.1Z" fill="#aba9d1"/>
<path d="M1611.5,1134.3L1624.4,1131.1L1647.5,1126.8L1647.5,1144.0L1669.4,1144.0L1669.4,1192.2L1650.1,1190.1L1641.5,1186.9L1627.6,1184.7L1626.5,1175.1L1620.1,1162.2L1609.3,1151.5Z" fill="#d7d6e8"/>
<path d="M1614.7,1189.0L1627.6,1185.8L1641.5,1187.9L1650.1,1191.2L1669.4,1193.3L1669.4,1212.6L1606.1,1211.5L1606.1,1203.0L1612.6,1199.7Z" fill="#aba9d1"/>
<path d="M1606.1,1212.6L1658.7,1212.6L1658.7,1223.3L1606.1,1223.3Z" fill="#aba9d1"/>
<path d="M1659.7,1213.7L1669.4,1213.7L1669.4,1223.3L1659.7,1223.3Z" fill="#d7d6e8"/>
<path d="M1649.0,1224.4L1665.1,1221.2L1665.1,1235.1L1669.4,1237.3L1669.4,1254.4L1649.0,1253.4Z" fill="#aba9d1"/>
<path d="M1643.7,1260.9L1658.7,1257.6L1660.8,1271.6L1669.4,1272.7L1672.6,1282.3L1669.4,1297.3L1667.3,1324.1L1646.9,1324.1L1646.9,1305.9L1641.5,1297.3L1641.5,1286.6L1649.0,1279.1L1649.0,1267.3Z" fill="#807dba"/>
<path d="M1609.3,1271.6L1643.7,1265.2L1649.0,1267.3L1649.0,1279.1L1641.5,1286.6L1614.7,1294.1L1610.4,1282.3Z" fill="#d7d6e8"/>
<path d="M1536.4,1316.6L1551.4,1316.6L1568.6,1328.4L1568.6,1346.6L1536.4,1346.6Z" fill="#aba9d1"/>
<path d="M1624.4,1335.9L1646.9,1316.6L1646.9,1324.1L1667.3,1324.1L1669.4,1346.6L1622.2,1346.6Z" fill="#807dba"/>
<path d="M1590.0,1347.7L1609.3,1347.7L1600.8,1359.5L1598.6,1370.0L1578.3,1370.0Z" fill="#807dba"/>
<path d="M1610.4,1347.7L1617.9,1347.7L1615.8,1370.0L1604.0,1370.0L1602.9,1359.5Z" fill="#aba9d1"/>
<path d="M1619.0,1347.7L1670.5,1347.7L1670.5,1370.0L1616.9,1370.0Z" fill="#807dba"/>
<path d="M1669.4,1070.0L1760.5,1070.0L1760.5,1155.8L1744.5,1148.3L1725.2,1145.1L1725.2,1166.5L1669.4,1166.5Z" fill="#807dba"/>
<path d="M1725.2,1145.1L1744.5,1147.6L1744.5,1153.6L1726.2,1153.6Z" fill="#807dba"/>
<path d="M1669.4,1070.0L1703.7,1070.0L1701.6,1082.9L1693.0,1083.9L1694.1,1093.6L1699.4,1094.7L1700.5,1102.2L1669.4,1102.2Z" fill="#5b3f98"/>
<path d="M1669.4,1103.2L1701.6,1103.2L1701.6,1126.8L1669.4,1126.8Z" fill="#807dba"/>
<path d="M1669.4,1127.9L1702.6,1127.9L1702.6,1144.0L1669.4,1144.0Z" fill="#807dba"/>
<path d="M1669.4,1145.1L1725.2,1145.1L1725.2,1166.5L1669.4,1166.5Z" fill="#807dba"/>
<path d="M1693.0,1083.9L1701.6,1082.9L1704.8,1079.7L1712.3,1093.6L1716.6,1104.3L1714.4,1116.1L1701.6,1116.1L1701.6,1102.2L1699.4,1094.7L1694.1,1093.6Z" fill="#807dba"/>
<path d="M1704.8,1070.0L1736.9,1070.0L1738.0,1112.9L1731.6,1118.3L1725.2,1119.3L1716.6,1104.3L1712.3,1093.6L1708.0,1079.7Z" fill="#807dba"/>
<path d="M1701.6,1117.2L1714.4,1116.1L1716.6,1105.4L1725.2,1120.4L1718.7,1129.0L1703.7,1129.0Z" fill="#aba9d1"/>
<path d="M1703.7,1130.0L1718.7,1130.0L1718.7,1144.0L1703.7,1144.0Z" fill="#aba9d1"/>
<path d="M1719.8,1130.0L1728.4,1127.9L1727.3,1145.1L1719.8,1144.0Z" fill="#807dba"/>
<path d="M1731.6,1123.6L1735.9,1121.5L1745.5,1134.3L1744.5,1139.7L1750.9,1147.2L1728.4,1146.1L1728.4,1134.3Z" fill="#5b3f98"/>
<path d="M1735.9,1120.4L1744.5,1116.1L1758.4,1117.2L1759.5,1154.7L1750.9,1146.1L1745.5,1139.7L1746.6,1134.3Z" fill="#aba9d1"/>
<path d="M1738.0,1070.0L1760.5,1070.0L1760.5,1100.0L1759.5,1116.1L1744.5,1115.0L1738.0,1111.8Z" fill="#5b3f98"/>
<path d="M1726.2,1153.6L1743.4,1154.7L1744.5,1169.7L1759.5,1169.7L1759.5,1196.5L1744.5,1198.7L1727.3,1197.6Z" fill="#d7d6e8"/>
<path d="M1744.5,1148.3L1758.4,1154.7L1759.5,1168.6L1744.5,1168.6Z" fill="#807dba"/>
<path d="M1670.5,1168.6L1691.9,1168.6L1691.9,1203.0L1670.5,1205.1Z" fill="#aba9d1"/>
<path d="M1693.0,1168.6L1725.2,1168.6L1725.2,1201.9L1693.0,1203.0Z" fill="#aba9d1"/>
<path d="M1670.5,1206.2L1693.0,1204.0L1725.2,1203.0L1731.6,1211.5L1733.7,1223.3L1670.5,1223.3Z" fill="#d7d6e8"/>
<path d="M1748.7,1213.7L1759.5,1211.5L1790.6,1215.8L1790.6,1218.0L1776.6,1225.5L1749.8,1233.0Z" fill="#d7d6e8"/>
<path d="M1667.3,1229.8L1691.9,1225.5L1689.8,1248.0L1670.5,1255.5L1669.4,1237.3L1665.1,1235.1Z" fill="#d7d6e8"/>
<path d="M1693.0,1225.5L1701.6,1225.5L1701.6,1243.7L1690.8,1248.0Z" fill="#aba9d1"/>
<path d="M1702.6,1225.5L1715.5,1225.5L1714.4,1241.6L1702.6,1244.8Z" fill="#aba9d1"/>
<path d="M1716.6,1225.5L1731.6,1225.5L1729.4,1237.3L1715.5,1241.6Z" fill="#d7d6e8"/>
<path d="M1690.8,1249.1L1714.4,1242.6L1715.5,1256.6L1691.9,1257.6Z" fill="#aba9d1"/>
<path d="M1716.6,1242.6L1728.4,1238.3L1727.3,1263.0L1717.6,1271.6L1716.6,1256.6Z" fill="#aba9d1"/>
<path d="M1670.5,1256.6L1689.8,1250.1L1678.0,1273.7L1672.6,1281.2L1670.5,1271.6Z" fill="#d7d6e8"/>
<path d="M1689.8,1252.3L1690.8,1279.1L1693.0,1288.7L1701.6,1292.0L1702.6,1301.6L1670.5,1301.6L1669.4,1297.3L1678.0,1273.7Z" fill="#5b3f98"/>
<path d="M1691.9,1258.7L1702.6,1257.6L1702.6,1273.7L1710.1,1275.9L1693.0,1287.7Z" fill="#807dba"/>
<path d="M1703.7,1257.6L1715.5,1257.6L1715.5,1273.7L1703.7,1273.7Z" fill="#d7d6e8"/>
<path d="M1728.4,1253.4L1747.7,1253.4L1747.7,1260.9L1728.4,1268.4Z" fill="#aba9d1"/>
<path d="M1727.3,1269.4L1747.7,1261.9L1747.7,1286.6L1731.6,1290.9L1727.3,1286.6Z" fill="#d7d6e8"/>
<path d="M1693.0,1288.7L1726.2,1269.4L1726.2,1284.5L1723.0,1301.6L1703.7,1301.6L1702.6,1292.0Z" fill="#d7d6e8"/>
<path d="M1670.5,1302.7L1724.1,1302.7L1724.1,1308.0L1718.7,1315.6L1713.4,1313.4L1684.4,1308.0Z" fill="#d7d6e8"/>
<path d="M1760.5,1100.0L1799.1,1100.0L1800.6,1112.9L1798.5,1123.6L1806.6,1160.1L1808.8,1181.5L1803.4,1191.2L1794.2,1193.3L1792.7,1213.7L1776.6,1211.5L1762.7,1207.3L1761.2,1177.2L1760.5,1155.8Z" fill="#5b3f98"/>
<path d="M1761.6,1124.7L1770.2,1124.7L1770.2,1141.8L1761.6,1141.8Z" fill="#807dba"/>
<path d="M1760.5,1070.0L1779.8,1070.0L1778.8,1077.5L1765.9,1091.4L1760.5,1100.0Z" fill="#5b3f98"/>
<path d="M1779.8,1070.0L1798.1,1070.0L1799.1,1100.0L1760.5,1100.0L1765.9,1091.4L1778.8,1077.5Z" fill="#807dba"/>
<path d="M1799.1,1124.7L1823.8,1124.7L1819.5,1138.6L1821.7,1155.8L1807.7,1157.9L1806.6,1160.1L1798.5,1124.7Z" fill="#aba9d1"/>
<path d="M1824.9,1124.7L1830.0,1124.7L1830.0,1155.8L1822.7,1155.8L1820.6,1138.6Z" fill="#aba9d1"/>
<path d="M1808.8,1160.1L1822.7,1160.1L1822.7,1154.7L1830.0,1153.6L1830.0,1170.8L1808.8,1170.8Z" fill="#5b3f98"/>
<path d="M1808.8,1170.8L1830.0,1170.8L1830.0,1180.4L1808.8,1180.4Z" fill="#807dba"/>
<path d="M1807.7,1182.6L1830.0,1181.5L1830.0,1198.7L1817.4,1198.7L1808.8,1190.1Z" fill="#d7d6e8"/>
<path d="M1793.8,1194.4L1802.4,1192.2L1813.1,1204.0L1830.0,1207.3L1830.0,1220.1L1817.4,1218.0L1813.1,1228.7L1806.6,1229.8L1803.4,1237.3L1793.8,1237.3Z" fill="#807dba"/>
<path d="M1801.3,1209.4L1806.6,1206.2L1817.4,1218.0L1813.1,1227.6L1802.4,1215.8Z" fill="#5b3f98"/>
<path d="M1793.8,1245.9L1806.6,1244.8L1805.6,1230.8L1830.0,1227.6L1830.0,1290.9L1808.8,1290.9L1808.8,1269.4L1793.8,1269.4Z" fill="#5b3f98"/>
<path d="M1783.1,1253.4L1793.8,1253.4L1793.8,1258.7L1783.1,1258.7Z" fill="#5b3f98"/>
<path d="M1793.8,1238.3L1804.5,1238.3L1805.6,1244.8L1793.8,1245.9Z" fill="#aba9d1"/>
<path d="M1776.6,1226.6L1790.6,1218.0L1792.7,1233.0L1784.1,1253.4L1778.8,1248.0L1775.6,1241.6Z" fill="#d7d6e8"/>
<path d="M1783.1,1259.8L1792.7,1259.8L1792.7,1270.5L1783.1,1270.5Z" fill="#d7d6e8"/>
<path d="M1783.1,1271.6L1792.7,1271.6L1792.7,1280.2L1783.1,1280.2Z" fill="#aba9d1"/>
<path d="M1793.8,1270.5L1808.8,1270.5L1808.8,1281.2L1793.8,1281.2Z" fill="#aba9d1"/>
<path d="M1771.3,1276.9L1783.1,1275.9L1787.3,1281.2L1808.8,1282.3L1808.8,1292.0L1785.2,1293.0L1780.9,1305.9L1768.0,1309.1L1764.8,1302.7L1769.1,1293.0Z" fill="#d7d6e8"/>
<path d="M1809.9,1293.0L1830.0,1292.0L1830.0,1308.0L1809.9,1308.0Z" fill="#807dba"/>
<path d="M1793.8,1310.2L1807.7,1310.2L1807.7,1338.1L1793.8,1338.1Z" fill="#aba9d1"/>
<path d="M1760.5,1315.6L1780.9,1315.6L1780.9,1329.5L1760.5,1329.5Z" fill="#d7d6e8"/>
<path d="M1760.5,1332.7L1791.6,1332.7L1787.3,1346.6L1760.5,1346.6Z" fill="#d7d6e8"/>
<path d="M1808.8,1310.2L1819.5,1310.2L1819.5,1322.0L1808.8,1322.0Z" fill="#d7d6e8"/>
<path d="M1792.7,1339.1L1808.8,1338.1L1808.8,1329.5L1820.6,1329.5L1820.6,1346.6L1785.2,1348.8L1787.3,1342.4Z" fill="#807dba"/>
<path d="M1748.7,1348.8L1784.1,1348.8L1783.1,1370.0L1748.7,1370.0Z" fill="#aba9d1"/>
<path d="M1785.2,1349.9L1807.7,1348.8L1807.7,1363.8L1790.6,1359.5L1784.1,1359.5Z" fill="#807dba"/>
<path d="M1808.8,1348.8L1830.0,1348.8L1830.0,1370.0L1808.8,1370.0Z" fill="#aba9d1"/>
<path d="M1799.7,1123.7L1881.1,1123.7L1881.8,1248.6L1867.2,1259.4L1793.2,1259.4L1793.2,1192.9L1806.1,1188.6L1808.2,1160.8L1802.9,1145.7Z" fill="#aba9d1"/>
<path d="M1760.0,1060.0L1801.8,1060.0L1798.6,1081.4L1800.7,1098.6L1801.8,1111.4L1798.6,1123.2L1802.9,1145.7L1808.2,1160.8L1806.1,1188.6L1793.2,1192.9L1792.2,1210.1L1781.4,1214.3L1760.0,1205.8Z" fill="#5b3f98"/>
<path d="M1779.3,1071.8L1799.7,1070.7L1800.7,1098.6L1764.3,1099.7L1777.1,1087.9L1779.3,1087.9Z" fill="#807dba"/>
<path d="M1760.0,1124.3L1770.7,1124.3L1770.7,1141.5L1760.0,1141.5Z" fill="#807dba"/>
<path d="M1760.0,1209.0L1781.4,1214.3L1792.2,1211.1L1793.2,1252.9L1782.5,1252.9L1776.1,1240.1L1777.1,1229.3L1760.0,1225.1Z" fill="#d7d6e8"/>
<path d="M1799.7,1124.3L1823.2,1124.3L1818.9,1135.0L1821.1,1152.2L1809.3,1160.8L1802.9,1145.7Z" fill="#aba9d1"/>
<path d="M1824.3,1124.3L1849.0,1124.3L1847.9,1146.8L1838.2,1147.9L1837.2,1152.2L1822.2,1152.2L1820.0,1135.0Z" fill="#aba9d1"/>
<path d="M1850.0,1124.3L1858.6,1124.3L1859.7,1152.2L1867.2,1158.6L1849.0,1168.3L1849.0,1144.7Z" fill="#d7d6e8"/>
<path d="M1860.8,1124.3L1880.5,1124.3L1880.5,1139.7L1860.8,1141.9Z" fill="#f1eff6"/>
<path d="M1860.8,1142.5L1880.0,1140.4L1881.1,1167.2L1871.5,1169.3L1869.3,1158.6L1860.8,1152.2Z" fill="#d7d6e8"/>
<path d="M1838.2,1147.9L1847.9,1147.9L1847.9,1168.3L1838.2,1168.3Z" fill="#aba9d1"/>
<path d="M1808.2,1160.8L1821.1,1153.2L1837.2,1153.2L1837.2,1167.2L1828.6,1168.3L1822.2,1171.5L1809.3,1169.3Z" fill="#5b3f98"/>
<path d="M1809.3,1170.4L1822.2,1171.5L1822.2,1180.0L1808.2,1180.0Z" fill="#807dba"/>
<path d="M1824.3,1169.3L1837.2,1168.3L1837.2,1186.5L1832.9,1191.8L1827.5,1186.5L1824.3,1180.0Z" fill="#807dba"/>
<path d="M1838.2,1172.5L1850.0,1169.3L1867.2,1159.7L1870.4,1170.4L1880.0,1171.5L1854.3,1176.8L1849.0,1182.2L1849.0,1190.8L1838.2,1190.8Z" fill="#807dba"/>
<path d="M1850.0,1182.2L1854.3,1177.9L1880.0,1172.5L1881.1,1197.2L1852.2,1197.2L1849.0,1191.8Z" fill="#aba9d1"/>
<path d="M1806.1,1182.2L1827.5,1181.1L1832.9,1192.9L1824.3,1210.1L1813.6,1201.5L1802.9,1192.9Z" fill="#d7d6e8"/>
<path d="M1801.8,1192.9L1813.6,1201.5L1817.9,1199.3L1809.3,1191.8Z" fill="#f1eff6"/>
<path d="M1834.0,1192.9L1838.2,1191.8L1841.5,1199.3L1830.7,1210.1L1825.4,1210.1Z" fill="#aba9d1"/>
<path d="M1793.2,1192.9L1801.8,1192.9L1817.9,1205.8L1824.3,1211.1L1832.9,1210.1L1841.5,1200.4L1845.7,1210.1L1834.0,1222.9L1824.3,1218.6L1813.6,1222.9L1802.9,1210.1L1800.7,1216.5L1793.2,1216.5Z" fill="#807dba"/>
<path d="M1852.2,1198.3L1881.1,1198.3L1881.1,1214.3L1860.8,1207.9Z" fill="#807dba"/>
<path d="M1842.5,1199.3L1850.0,1198.3L1860.8,1209.0L1858.6,1222.9L1850.0,1218.6L1844.7,1210.1Z" fill="#d7d6e8"/>
<path d="M1842.5,1207.9L1849.0,1199.3L1854.3,1201.5L1847.9,1210.1Z" fill="#f1eff6"/>
<path d="M1860.8,1210.1L1881.1,1215.4L1881.8,1248.6L1873.6,1244.4L1867.2,1235.8L1871.5,1231.5L1870.4,1220.8L1860.8,1218.6Z" fill="#aba9d1"/>
<path d="M1794.3,1218.6L1801.8,1218.6L1805.0,1231.5L1813.6,1231.5L1813.6,1242.2L1810.4,1242.2L1806.1,1252.9L1794.3,1252.9Z" fill="#807dba"/>
<path d="M1793.2,1229.3L1803.9,1229.3L1803.9,1244.4L1793.2,1244.4Z" fill="#aba9d1"/>
<path d="M1801.8,1211.1L1813.6,1224.0L1824.3,1219.7L1834.0,1224.0L1845.7,1211.1L1850.0,1219.7L1858.6,1224.0L1869.3,1242.2L1841.5,1242.2L1813.6,1242.2L1805.0,1231.5Z" fill="#807dba"/>
<path d="M1801.6,1210.7L1811.4,1215.6L1817.2,1218.6L1814.4,1225.7L1805.9,1221.4Z" fill="#5b3f98"/>
<path d="M1837.2,1213.7L1845.7,1212.2L1850.0,1224.2L1860.1,1230.0L1867.8,1240.1L1854.3,1241.4L1852.8,1234.3L1837.2,1232.8L1831.4,1228.5Z" fill="#5b3f98"/>
<path d="M1805.9,1231.5L1837.2,1231.5L1845.7,1257.2L1810.4,1258.3L1806.1,1252.9L1810.4,1242.2Z" fill="#5b3f98"/>
<path d="M1782.5,1254.0L1806.1,1252.9L1810.4,1258.3L1822.2,1258.3L1821.1,1269.0L1793.2,1269.0L1793.2,1259.4L1782.5,1258.3Z" fill="#5b3f98"/>
<path d="M1809.3,1271.1L1815.7,1271.1L1815.7,1290.4L1809.3,1290.4Z" fill="#5b3f98"/>
<path d="M1841.5,1243.3L1869.3,1243.3L1873.6,1248.6L1862.9,1251.9L1850.0,1252.9Z" fill="#aba9d1"/>
<path d="M1847.9,1252.9L1862.9,1251.9L1869.3,1254.0L1869.3,1258.3L1845.7,1258.3Z" fill="#807dba"/>
<path d="M1870.4,1248.6L1881.8,1249.7L1887.5,1259.4L1888.6,1269.0L1870.4,1269.0Z" fill="#d7d6e8"/>
<path d="M1822.2,1259.4L1835.0,1259.4L1835.0,1271.1L1843.6,1272.2L1843.6,1280.8L1830.7,1280.8L1828.6,1290.4L1822.2,1290.4Z" fill="#807dba"/>
<path d="M1836.1,1259.4L1864.0,1259.4L1864.0,1279.7L1844.7,1280.8L1844.7,1271.1L1836.1,1271.1Z" fill="#807dba"/>
<path d="M1865.0,1259.4L1869.3,1259.4L1871.5,1279.7L1865.0,1279.7Z" fill="#d7d6e8"/>
<path d="M1782.5,1260.4L1792.2,1260.4L1792.2,1269.0L1782.5,1269.0Z" fill="#d7d6e8"/>
<path d="M1782.5,1271.1L1792.2,1271.1L1792.2,1280.8L1782.5,1280.8Z" fill="#aba9d1"/>
<path d="M1794.3,1271.1L1807.2,1271.1L1807.2,1280.8L1794.3,1280.8Z" fill="#aba9d1"/>
<path d="M1830.7,1281.9L1842.5,1281.9L1842.5,1292.6L1830.7,1292.6Z" fill="#aba9d1"/>
<path d="M1860.8,1280.8L1875.8,1281.9L1875.8,1293.7L1865.0,1293.7Z" fill="#807dba"/>
<path d="M1768.6,1276.5L1787.9,1276.5L1787.9,1280.8L1807.2,1281.9L1807.2,1291.5L1783.6,1292.6L1780.4,1306.5L1768.6,1309.7L1764.3,1302.2L1770.7,1287.2Z" fill="#d7d6e8"/>
<path d="M1876.8,1281.9L1888.6,1281.9L1889.7,1322.6L1880.0,1312.9L1871.5,1308.7L1866.1,1295.8L1876.8,1293.7Z" fill="#d7d6e8"/>
<path d="M1809.3,1292.6L1821.1,1292.6L1821.1,1308.7L1809.3,1308.7Z" fill="#807dba"/>
<path d="M1822.2,1292.6L1837.2,1292.6L1837.2,1308.7L1822.2,1308.7Z" fill="#aba9d1"/>
<path d="M1838.2,1293.7L1865.0,1294.7L1871.5,1308.7L1838.2,1308.7Z" fill="#d7d6e8"/>
<path d="M1794.3,1293.7L1807.2,1293.7L1807.2,1308.7L1794.3,1308.7Z" fill="#d7d6e8"/>
<path d="M1794.3,1309.7L1807.2,1309.7L1807.2,1336.5L1794.3,1336.5Z" fill="#aba9d1"/>
<path d="M1809.3,1309.7L1820.0,1309.7L1820.0,1328.0L1809.3,1328.0Z" fill="#d7d6e8"/>
<path d="M1838.2,1309.7L1864.0,1309.7L1864.0,1325.8L1854.3,1326.9L1853.2,1334.4L1838.2,1334.4Z" fill="#d7d6e8"/>
<path d="M1865.0,1309.7L1871.5,1309.7L1880.0,1314.0L1890.8,1323.7L1882.2,1325.8L1865.0,1325.8Z" fill="#aba9d1"/>
<path d="M1854.3,1326.9L1864.0,1326.9L1864.0,1338.7L1838.2,1338.7L1838.2,1335.5L1853.2,1335.5Z" fill="#807dba"/>
<path d="M1865.0,1326.9L1880.0,1326.9L1880.0,1343.0L1871.5,1343.0L1865.0,1338.7Z" fill="#aba9d1"/>
<path d="M1882.2,1325.8L1890.8,1323.2L1899.3,1328.0L1902.6,1338.7L1914.3,1343.0L1913.3,1351.5L1907.9,1349.4L1902.6,1359.9L1881.1,1350.5Z" fill="#5b3f98"/>
<path d="M1809.3,1329.0L1820.0,1329.0L1820.0,1347.2L1786.8,1348.3L1792.2,1337.6L1807.2,1337.6Z" fill="#807dba"/>
<path d="M1760.0,1310.8L1781.4,1310.8L1781.4,1324.7L1776.1,1325.8L1776.1,1330.1L1760.0,1330.1Z" fill="#d7d6e8"/>
<path d="M1760.0,1332.2L1790.0,1331.2L1783.6,1348.3L1760.0,1349.4Z" fill="#d7d6e8"/>
<path d="M1784.7,1349.4L1807.2,1349.4L1807.2,1359.9L1784.7,1359.9Z" fill="#807dba"/>
<path d="M1760.0,1350.5L1783.6,1349.4L1783.6,1359.9L1760.0,1359.9Z" fill="#aba9d1"/>
<path d="M1808.2,1349.4L1824.3,1349.4L1824.3,1359.9L1808.2,1359.9Z" fill="#aba9d1"/>
<path d="M1826.5,1348.3L1837.2,1348.3L1837.2,1359.9L1826.5,1359.9Z" fill="#aba9d1"/>
<path d="M1622.4,1330.0L1668.2,1330.0L1668.2,1346.3L1671.3,1347.9L1671.3,1430.9L1665.1,1432.5L1658.9,1424.7L1652.7,1420.1L1644.9,1420.8L1638.7,1418.5L1629.4,1420.1L1621.6,1419.3L1613.9,1410.7L1605.3,1403.0L1604.5,1392.1L1607.6,1381.2L1614.6,1371.9L1618.5,1347.9L1623.2,1345.5Z" fill="#807dba"/>
<path d="M1592.1,1347.9L1608.4,1347.9L1602.2,1362.6L1598.3,1376.6L1589.0,1392.1L1577.4,1392.1L1577.4,1362.6L1581.2,1361.1L1589.0,1356.4Z" fill="#807dba"/>
<path d="M1711.7,1457.3L1724.1,1459.7L1724.1,1500.8L1713.2,1502.4L1705.5,1500.8Z" fill="#807dba"/>
<path d="M1783.1,1393.7L1797.1,1393.7L1797.9,1430.9L1794.0,1438.7L1795.5,1447.2L1788.5,1447.2L1787.8,1438.7L1783.1,1423.2Z" fill="#807dba"/>
<path d="M1798.6,1426.3L1814.2,1426.3L1814.2,1447.2L1796.3,1447.2L1794.8,1438.7L1798.6,1430.9Z" fill="#807dba"/>
<path d="M1815.7,1414.6L1836.7,1414.6L1836.7,1432.5L1825.0,1444.9L1818.8,1448.0L1814.9,1447.2Z" fill="#807dba"/>
<path d="M1838.2,1393.7L1892.6,1393.7L1885.6,1407.6L1881.7,1421.6L1876.3,1427.8L1867.0,1431.7L1868.5,1439.5L1854.5,1445.7L1838.2,1437.1Z" fill="#807dba"/>
<path d="M1790.1,1448.8L1819.6,1448.8L1819.6,1458.9L1814.9,1459.7L1814.2,1465.1L1794.0,1466.6L1790.9,1470.5Z" fill="#807dba"/>
<path d="M1782.3,1379.7L1808.0,1379.7L1808.0,1392.1L1782.3,1392.1Z" fill="#807dba"/>
<path d="M1808.7,1382.8L1825.0,1382.8L1825.0,1392.1L1808.7,1392.1Z" fill="#807dba"/>
<path d="M1826.6,1379.7L1836.7,1376.6L1836.7,1392.1L1826.6,1392.1Z" fill="#807dba"/>
<path d="M1784.7,1349.4L1808.0,1349.4L1808.0,1363.4L1792.4,1364.2L1787.8,1360.3L1784.7,1361.1Z" fill="#807dba"/>
<path d="M1786.2,1345.5L1792.4,1334.7L1792.4,1330.0L1820.4,1330.0L1819.6,1347.1L1786.2,1347.9Z" fill="#807dba"/>
<path d="M1815.7,1393.7L1836.7,1393.7L1836.7,1414.6L1815.7,1414.6Z" fill="#5b3f98"/>
<path d="M1882.5,1330.0L1899.6,1330.0L1901.1,1333.1L1907.3,1342.4L1914.3,1344.0L1913.5,1350.2L1904.2,1351.7L1899.6,1361.1L1881.7,1350.2Z" fill="#5b3f98"/>
<path d="M1536.2,1330.0L1568.0,1330.0L1568.0,1345.5L1536.2,1346.3Z" fill="#aba9d1"/>
<path d="M1608.4,1347.9L1618.5,1347.9L1614.6,1371.9L1607.6,1381.2L1604.5,1392.1L1589.0,1392.1L1598.3,1376.6L1602.2,1362.6Z" fill="#aba9d1"/>
<path d="M1577.4,1392.9L1604.5,1392.9L1605.3,1403.0L1613.9,1410.7L1621.6,1419.3L1629.4,1420.1L1638.7,1418.5L1644.9,1420.8L1652.7,1420.1L1658.9,1424.7L1660.4,1429.4L1652.7,1429.4L1648.0,1426.3L1644.1,1430.9L1637.9,1433.3L1638.7,1441.8L1629.4,1444.1L1623.2,1445.7L1613.9,1441.8L1599.9,1437.1L1589.0,1432.5L1582.8,1429.4L1579.7,1417.0L1577.4,1407.6Z" fill="#aba9d1"/>
<path d="M1672.9,1430.9L1679.8,1423.9L1685.3,1435.6L1691.5,1445.7L1694.6,1438.7L1699.3,1420.1L1703.9,1410.7L1710.1,1405.3L1710.9,1423.2L1713.2,1430.9L1710.1,1446.5L1711.7,1457.3L1708.6,1476.0L1688.4,1476.0L1687.6,1462.0L1685.3,1458.9L1672.9,1458.9Z" fill="#aba9d1"/>
<path d="M1725.7,1413.9L1730.3,1421.6L1738.1,1424.7L1739.6,1430.9L1747.4,1431.7L1747.4,1444.9L1736.5,1449.6L1725.7,1448.0Z" fill="#aba9d1"/>
<path d="M1725.7,1449.6L1736.5,1450.3L1747.4,1446.5L1747.4,1466.6L1725.7,1477.5Z" fill="#aba9d1"/>
<path d="M1748.9,1424.7L1769.9,1424.7L1770.7,1437.1L1784.7,1437.1L1787.8,1444.9L1778.4,1452.7L1769.1,1458.9L1748.9,1466.6Z" fill="#aba9d1"/>
<path d="M1725.7,1481.4L1748.9,1468.2L1769.1,1460.4L1778.4,1454.2L1787.8,1445.7L1789.3,1485.3L1775.3,1486.1L1776.9,1479.1L1778.4,1466.6L1776.9,1458.9L1767.6,1463.5L1759.8,1469.8L1759.8,1481.4Z" fill="#aba9d1"/>
<path d="M1770.7,1393.7L1782.3,1393.7L1783.1,1423.2L1787.0,1437.1L1770.7,1437.1Z" fill="#aba9d1"/>
<path d="M1799.4,1393.7L1814.2,1393.7L1814.2,1425.5L1799.4,1425.5Z" fill="#aba9d1"/>
<path d="M1749.7,1350.2L1759.0,1349.4L1759.0,1370.4L1749.7,1370.4Z" fill="#aba9d1"/>
<path d="M1759.8,1349.4L1783.9,1349.4L1783.9,1361.8L1759.8,1361.8Z" fill="#aba9d1"/>
<path d="M1749.7,1371.1L1759.0,1371.1L1759.0,1392.1L1749.7,1392.1Z" fill="#aba9d1"/>
<path d="M1759.8,1376.6L1780.0,1376.6L1780.0,1392.1L1759.8,1392.1Z" fill="#aba9d1"/>
<path d="M1809.5,1349.4L1825.0,1349.4L1825.0,1370.4L1809.5,1370.4Z" fill="#aba9d1"/>
<path d="M1809.5,1371.1L1825.0,1371.1L1825.0,1382.0L1809.5,1382.0Z" fill="#aba9d1"/>
<path d="M1826.6,1349.4L1838.2,1349.4L1840.6,1361.1L1836.7,1376.6L1826.6,1378.1Z" fill="#aba9d1"/>
<path d="M1792.4,1330.0L1808.0,1330.0L1807.2,1336.2L1792.4,1337.0Z" fill="#aba9d1"/>
<path d="M1539.3,1367.3L1547.1,1370.4L1561.1,1364.9L1576.6,1363.4L1576.6,1392.1L1548.6,1392.9L1547.9,1397.5L1539.3,1397.5Z" fill="#d7d6e8"/>
<path d="M1689.9,1366.5L1699.3,1366.0L1700.0,1370.7L1724.1,1371.9L1724.1,1390.6L1697.7,1391.3L1694.6,1387.5L1695.4,1381.2L1692.3,1371.9Z" fill="#d7d6e8"/>
<path d="M1725.7,1371.1L1747.4,1368.8L1747.4,1392.1L1725.7,1392.1Z" fill="#d7d6e8"/>
<path d="M1725.7,1393.7L1747.4,1393.7L1747.4,1430.9L1739.6,1430.2L1738.1,1423.9L1730.3,1420.8L1725.7,1413.1Z" fill="#d7d6e8"/>
<path d="M1748.9,1393.7L1769.9,1393.7L1769.9,1423.9L1748.9,1423.9Z" fill="#d7d6e8"/>
<path d="M1759.8,1333.1L1790.9,1333.1L1784.7,1347.1L1759.8,1347.9Z" fill="#d7d6e8"/>
<path d="M1759.8,1362.6L1783.1,1362.6L1780.0,1375.8L1759.8,1375.8Z" fill="#d7d6e8"/>
<path d="M1783.1,1361.1L1787.8,1360.3L1792.4,1364.9L1808.0,1364.2L1808.0,1378.1L1782.3,1378.9Z" fill="#d7d6e8"/>
<path d="M1589.0,1433.3L1599.9,1437.9L1613.9,1442.6L1623.2,1446.5L1629.4,1444.9L1638.7,1442.6L1637.9,1434.0L1644.1,1431.7L1648.0,1427.0L1652.7,1430.2L1660.4,1430.2L1665.1,1433.3L1671.3,1431.7L1671.3,1491.5L1666.6,1485.3L1658.9,1479.1L1648.0,1478.3L1637.1,1473.6L1627.0,1469.8L1623.2,1477.5L1617.0,1483.0L1607.6,1483.7L1601.4,1479.1L1592.1,1481.4L1581.2,1480.6L1576.6,1478.3L1568.8,1481.4L1564.9,1475.2L1561.1,1474.4L1557.2,1480.6L1548.6,1481.4L1538.5,1485.3L1538.5,1462.8L1550.2,1458.9L1581.2,1459.7L1582.0,1452.7L1589.0,1446.5L1588.2,1438.7Z" fill="#d7d6e8"/>
<path d="M1790.1,1471.3L1794.0,1467.4L1814.2,1465.9L1815.7,1460.4L1820.4,1459.7L1820.4,1448.8L1825.8,1445.7L1836.7,1433.3L1838.2,1437.9L1854.5,1446.5L1849.9,1452.7L1842.1,1460.4L1832.8,1470.5L1817.3,1475.2L1800.2,1479.1L1790.9,1488.4Z" fill="#d7d6e8"/>
<path d="M1821.9,1333.1L1839.0,1333.1L1838.2,1339.3L1829.7,1339.3L1831.2,1347.1L1821.9,1347.9Z" fill="#d7d6e8"/>
<path d="M1759.8,1469.8L1767.6,1463.5L1776.9,1458.9L1779.2,1466.6L1776.9,1479.1L1775.3,1485.3L1772.2,1480.6L1759.8,1489.9Z" fill="#f1eff6"/>
<path d="M1537.3,811.4L1537.3,1090.0M1368.3,944.8L1368.3,954.1L1413.3,954.1L1413.3,942.7L1537.3,942.7M1401.1,954.1L1401.1,1090.0M1270.3,1077.8L1560.0,1077.8M1529.8,1016.2L1535.6,1010.9L1536.6,1019.5L1529.8,1016.2" stroke-width="1.3"/>
<path d="M1268.9,1077.6L1555.0,1077.6M1401.5,1060.0L1401.5,1253.0M1401.9,1308.3L1402.3,1347.8M1268.3,1213.3L1401.5,1212.3M1401.5,1178.6L1536.4,1179.0M1468.8,1178.6L1468.8,1195.5M1536.4,1060.0L1536.4,1347.8M1511.3,1213.3L1536.4,1213.3M1268.3,1303.4L1290.4,1302.3L1291.0,1308.3L1296.8,1308.3L1312.9,1300.2L1327.9,1295.9L1340.8,1297.0L1347.2,1299.1L1355.8,1295.9L1357.5,1268.0L1379.4,1262.7L1379.8,1256.2L1389.0,1255.6L1390.1,1251.9L1403.0,1254.1L1408.3,1259.4L1409.0,1273.4L1424.4,1273.4L1428.7,1268.0L1452.3,1262.7L1458.7,1259.0L1469.5,1263.7L1485.5,1268.4L1486.2,1279.8L1471.6,1290.5L1461.9,1284.7L1455.5,1293.8L1446.9,1302.3L1445.9,1307.7L1433.0,1306.6L1420.1,1300.2L1415.8,1299.8L1408.3,1307.7L1385.8,1308.3L1379.4,1302.3L1370.8,1301.3L1357.9,1303.4L1350.4,1302.3L1349.4,1299.1M1357.5,1280.9L1370.8,1277.0L1388.0,1275.5L1403.0,1275.5L1401.9,1280.9L1405.1,1283.5L1418.0,1284.1L1422.7,1286.2L1420.1,1299.8M1458.7,1259.0L1438.4,1232.6L1443.7,1230.1L1457.7,1229.4L1458.3,1201.5L1464.7,1201.5L1464.7,1195.5L1482.3,1195.5L1490.9,1199.4L1497.3,1203.7L1499.5,1199.4L1505.9,1198.3L1511.3,1210.1L1508.5,1216.6L1514.5,1218.7L1508.5,1223.0L1514.5,1227.3L1513.4,1231.6L1514.5,1257.3L1514.1,1279.8L1497.3,1298.0L1474.8,1299.1L1471.6,1290.5M1470.5,1202.6L1471.6,1212.7L1480.2,1212.7L1486.6,1212.7L1493.0,1208.0L1497.3,1203.7M1514.5,1256.9L1527.8,1256.9L1531.6,1246.6L1535.9,1241.2L1548.8,1240.6L1555.0,1244.4M1497.3,1298.0L1508.1,1303.4L1518.8,1302.8L1519.2,1307.7L1525.2,1308.3L1525.6,1318.4L1530.6,1319.5L1535.9,1316.3M1446.9,1307.7L1446.3,1317.3L1449.7,1320.6L1450.2,1324.9L1463.0,1327.0L1464.1,1332.4L1465.2,1327.0L1469.0,1326.6L1469.5,1322.7L1481.2,1315.2L1483.4,1318.4L1477.0,1325.9L1474.8,1336.6L1482.3,1339.9L1486.6,1337.7L1488.8,1339.9L1496.3,1340.9L1499.5,1336.6L1503.8,1331.3L1513.4,1323.8L1513.4,1316.3L1508.1,1308.8L1508.1,1303.4M1482.3,1339.9L1473.7,1346.3L1467.3,1347.8M1279.0,1314.1L1301.8,1313.7L1301.8,1336.6L1290.4,1336.6L1284.6,1342.7L1284.0,1337.1L1278.6,1336.6L1279.0,1314.1M1291.5,1331.3L1297.9,1331.3L1293.6,1334.1L1291.5,1331.3M1537.7,1114.7L1546.7,1122.2L1555.0,1124.3" stroke-width="1.3"/>
<path d="M1537.5,811.4L1537.5,1090.0M1530.0,942.7L1746.6,943.3M1645.8,852.2L1645.8,942.7M1679.5,891.9L1679.5,942.7M1713.8,921.9L1713.8,942.7M1680.1,921.9L1713.8,921.9M1647.5,912.2L1652.2,899.8L1679.5,899.8M1646.9,943.3L1646.9,965.9L1668.3,965.9M1668.3,943.3L1668.3,1090.0M1555.7,943.3L1562.2,957.3L1575.0,980.9L1583.6,1000.2L1594.3,1010.9L1605.1,1017.3M1570.7,943.3L1594.3,957.3L1615.8,970.1L1637.2,985.2L1658.7,991.6M1713.4,944.4L1714.4,957.3L1718.7,978.7L1718.7,1009.8M1741.2,944.4L1739.1,965.9L1741.2,985.2M1741.2,977.6L1772.3,977.6L1779.8,980.9M1718.7,983.0L1744.5,987.3L1759.5,989.4L1778.8,981.9M1734.8,1009.8L1738.0,998.0L1759.5,989.4M1669.4,1009.8L1801.3,1009.8M1718.7,1009.8L1718.7,1043.1M1735.9,1009.8L1735.9,1043.1M1757.3,1009.8L1758.4,1032.3L1761.6,1043.1M1778.8,1009.8L1779.8,1068.8M1723.0,1043.1L1802.4,1044.1M1688.7,1032.3L1718.7,1032.3M1701.6,1059.1L1723.0,1060.2M1675.8,1009.8L1693.0,1043.1L1708.0,1077.4M1678.0,1009.8L1695.1,1043.1L1710.1,1077.4M1712.3,1034.5L1713.4,1049.5L1718.7,1051.6L1718.7,1060.2M1718.7,1032.3L1725.2,1028.0L1733.7,1027.0M1723.0,1043.1L1725.2,1062.4M1731.6,1044.1L1744.5,1062.4L1753.0,1079.5M1744.5,1061.3L1761.6,1063.4L1770.2,1068.8L1765.9,1083.8M1757.3,1045.2L1763.8,1055.9L1770.2,1068.8M1779.8,1068.8L1801.3,1069.9M1798.1,1049.5L1801.3,1050.6L1801.3,1064.5L1798.1,1065.6L1797.0,1058.1L1798.1,1049.5M1537.5,998.0L1547.2,1000.2M1537.5,1043.1L1547.2,1049.5L1557.9,1050.6L1572.9,1047.3L1585.8,1050.6M1559.0,1077.4L1559.0,1030.2L1568.6,1023.8L1569.7,1017.3M1537.5,1077.4L1669.4,1076.3M1581.5,1077.4L1581.5,1090.0M1615.8,1090.0L1620.1,1076.3M1637.2,1040.9L1637.2,1076.3" stroke-width="1.3"/>
<path d="M1530.0,1077.5L1669.4,1077.5M1580.4,1077.5L1581.5,1130.0M1613.6,1077.5L1612.6,1110.7L1609.3,1151.5M1537.5,1077.5L1537.5,1346.6M1537.5,1115.0L1566.5,1145.1L1557.9,1155.8L1537.5,1156.9M1530.0,1179.4L1537.5,1179.4M1530.0,1212.6L1551.4,1207.3L1567.5,1211.5L1605.1,1211.5M1605.1,1183.7L1606.1,1346.6M1606.1,1223.3L1669.4,1223.3M1606.1,1271.6L1572.9,1248.0L1562.2,1255.5L1555.7,1241.6L1536.4,1240.5L1530.0,1248.0M1568.6,1212.6L1575.0,1220.1L1581.5,1219.0L1586.8,1224.4L1585.8,1230.8L1572.9,1231.9L1569.7,1241.6M1551.4,1264.1L1557.9,1258.7L1568.6,1248.0M1553.6,1263.0L1552.5,1286.6L1579.3,1281.2L1607.2,1271.6M1579.3,1281.2L1578.3,1302.7L1613.6,1294.1M1540.7,1295.2L1579.3,1281.2M1536.4,1314.5L1540.7,1295.2M1536.4,1316.6L1587.9,1302.7L1615.8,1295.2M1587.9,1302.7L1590.0,1330.6L1615.8,1312.3M1615.8,1295.2L1622.2,1335.9M1568.6,1328.4L1622.2,1346.6M1530.0,1347.7L1830.0,1347.7M1622.2,1335.9L1669.4,1300.5L1748.7,1233.0M1669.4,1070.0L1670.5,1370.0M1670.5,1302.7L1748.7,1302.7M1748.7,1209.4L1748.7,1370.0M1726.2,1153.6L1726.2,1370.0M1760.5,1070.0L1760.5,1207.3M1703.7,1070.0L1716.6,1104.3L1725.2,1120.4L1731.6,1123.6M1735.9,1121.5L1760.5,1155.8L1776.6,1177.2L1792.7,1213.7M1681.2,1152.6L1686.6,1152.6L1686.6,1148.3L1691.9,1148.3L1691.9,1155.8L1697.3,1155.8L1697.3,1160.1L1681.2,1160.1L1681.2,1152.6M1760.5,1141.4L1802.4,1141.4M1760.5,1158.6L1806.2,1158.6M1760.5,1169.9L1807.7,1169.9M1760.5,1181.5L1808.4,1181.5M1760.5,1191.6L1794.2,1192.7M1761.6,1204.5L1793.3,1205.1M1770.8,1124.7L1770.8,1207.3M1784.8,1141.4L1784.8,1211.5M1794.4,1158.6L1794.4,1193.3M1778.8,1124.7L1778.8,1141.4M1779.8,1100.0L1780.9,1124.7M1760.5,1100.0L1799.1,1100.0M1760.5,1116.1L1787.3,1122.5L1798.5,1123.6M1792.7,1213.7L1793.8,1348.8M1808.8,1269.4L1808.8,1370.0M1760.5,1281.2L1760.5,1370.0M1748.7,1281.2L1760.5,1281.2M1736.9,1286.6L1736.9,1302.7M1748.7,1305.9L1760.5,1305.9M1748.7,1325.2L1760.5,1325.2M1684.4,1308.0L1685.5,1318.8L1714.4,1313.4L1713.4,1325.2L1688.7,1338.1L1684.4,1348.8M1724.1,1308.0L1724.1,1347.7M1726.2,1325.2L1748.7,1325.2M1688.7,1348.8L1689.8,1370.0M1776.6,1226.6L1774.5,1241.6L1778.8,1248.0L1774.5,1257.6L1775.6,1275.9L1771.3,1276.9M1748.7,1258.7L1774.5,1257.6M1806.6,1229.8L1806.6,1290.9M1817.4,1229.8L1817.4,1290.9M1793.8,1258.7L1830.0,1258.7M1793.8,1245.9L1830.0,1244.8M1808.8,1281.2L1830.0,1281.2" stroke-width="1.3"/>
<path d="M1760.0,1100.7L1781.4,1101.8L1782.5,1124.3L1794.3,1128.6M1760.0,1115.7L1781.4,1120.0L1794.3,1128.6L1798.6,1123.2M1823.2,1124.3L1818.9,1135.0L1821.1,1152.2M1849.0,1124.3L1847.9,1168.3M1859.7,1124.3L1859.7,1152.2M1881.1,1123.7L1881.8,1248.6M1845.7,1248.6L1867.2,1293.7L1890.8,1322.6M1822.2,1292.6L1822.2,1359.9M1837.2,1292.6L1838.2,1338.7M1808.2,1292.6L1808.2,1348.3M1793.2,1293.7L1793.2,1336.5M1760.0,1297.9L1793.2,1296.9M1829.7,1338.7L1830.7,1359.9" stroke-width="1.3"/>
<path d="M1530.0,1347.1L1671.3,1347.1L1685.3,1350.2L1724.1,1349.4L1748.9,1354.1L1759.8,1349.4L1840.6,1348.6M1538.5,1347.1L1538.5,1485.3M1671.3,1347.9L1672.1,1492.3M1724.9,1330.0L1724.9,1502.4M1748.2,1330.0L1748.2,1466.6M1539.3,1347.9L1590.6,1347.9L1587.5,1356.4L1576.6,1361.1L1561.1,1364.9L1547.1,1370.4L1539.3,1358.0M1576.6,1361.1L1576.6,1392.1M1539.3,1398.3L1576.6,1392.1L1672.9,1392.9L1685.3,1393.7L1724.1,1392.1L1892.6,1393.7M1576.6,1392.1L1577.4,1409.2L1539.3,1446.5M1539.3,1446.5L1550.2,1437.1L1575.0,1429.4L1589.0,1432.5M1539.3,1462.8L1550.2,1458.9L1581.2,1459.7M1638.7,1441.8L1640.2,1460.4L1638.7,1472.9M1638.7,1442.6L1654.2,1449.6L1671.3,1458.9M1605.3,1393.7L1623.2,1392.1L1638.7,1389.0L1643.4,1393.7L1671.3,1396.8M1643.4,1393.7L1638.7,1407.6L1627.8,1417.0L1627.0,1420.1M1685.3,1350.2L1691.5,1365.7M1685.3,1350.2L1685.3,1339.3L1700.8,1333.1L1724.1,1330.0M1672.9,1458.9L1687.6,1462.0L1688.4,1476.0L1708.6,1476.0M1672.9,1392.9L1685.3,1395.2L1711.7,1393.7L1710.1,1405.3M1836.7,1348.6L1836.7,1432.5M1825.8,1348.6L1825.8,1392.1M1808.7,1348.6L1808.7,1392.1M1781.6,1392.1L1782.3,1379.7L1784.7,1361.1M1814.9,1393.7L1814.9,1447.2M1798.6,1393.7L1798.6,1426.3M1769.9,1393.7L1770.7,1437.1M1788.5,1445.7L1790.9,1488.4M1829.7,1339.3L1831.2,1347.1L1838.2,1349.4" stroke-width="1.3"/>
</g>
<path d="M1267.4,1347.8L1268.3,1213.3L1268.9,1086.8L1270.4,1085.3L1269.6,1079.3L1272.2,1075.0L1271.1,1070.7L1275.4,1067.5L1274.3,1062.1L1276.4,1060.0L1270.3,1078.4L1272.9,1068.8L1277.2,1060.2L1275.0,1052.7L1279.3,1051.2L1287.9,1057.0L1298.6,1053.8L1306.1,1043.1L1310.4,1038.8L1309.8,1027.6L1312.5,1025.9L1314.7,1015.2L1320.0,1000.2L1330.8,986.2L1339.3,974.4L1341.5,968.0L1350.1,958.3L1356.5,951.9L1360.8,946.1L1367.2,944.8L1375.8,940.1L1383.3,941.8L1390.8,938.0L1399.4,933.7L1408.0,924.0L1409.7,916.5L1408.0,906.9L1399.4,899.4L1393.0,891.9L1387.6,882.2L1387.6,874.7L1393.0,871.1L1400.5,869.3L1403.7,861.8L1409.0,854.3L1413.3,854.3L1416.6,861.8L1420.8,865.1L1425.1,862.9L1424.1,855.4L1435.9,853.3L1439.1,854.3L1442.3,851.1L1448.7,850.0L1450.9,856.5L1456.2,856.5L1459.4,851.1L1458.4,843.6L1461.6,841.5L1463.7,846.2L1476.6,841.5L1487.3,836.1L1493.8,828.6L1497.0,829.7L1502.3,828.6L1508.8,824.3L1514.1,819.0L1522.7,821.1L1527.0,832.9L1531.3,832.9L1532.4,824.3L1535.6,820.0L1537.7,811.4L1544.2,808.2L1543.1,802.9L1537.7,801.8L1536.6,797.5L1536.4,797.5L1545.0,798.6L1557.9,803.9L1563.2,813.6L1575.0,828.6L1593.3,829.7L1606.1,836.1L1624.4,843.6L1634.0,841.5L1643.7,849.0L1650.1,860.8L1656.5,870.4L1669.4,880.1L1684.4,891.9L1699.4,901.5L1714.4,907.5L1723.0,918.7L1731.6,930.5L1746.6,943.3L1757.3,949.8L1768.0,957.3L1773.4,968.0L1782.0,978.7L1785.2,989.4L1786.3,998.0L1795.9,1006.6L1803.4,1017.3L1802.4,1034.5L1801.3,1047.3L1802.4,1058.1L1801.3,1068.8L1801.8,1060.0L1798.6,1081.4L1800.7,1098.6L1801.8,1111.4L1799.0,1123.7L1881.1,1123.7L1881.8,1248.6L1887.5,1259.4L1889.7,1285.1L1888.6,1306.5L1890.8,1322.6L1899.3,1328.0L1902.6,1338.7L1914.3,1343.0L1913.3,1351.5L1907.9,1349.4L1902.6,1359.9L1901.1,1333.1L1907.3,1342.4L1914.3,1344.0L1913.5,1350.2L1908.9,1353.3L1914.3,1361.1L1912.0,1365.7L1902.7,1371.9L1901.1,1379.7L1890.2,1389.0L1892.6,1395.2L1885.6,1407.6L1881.7,1421.6L1876.3,1427.8L1867.0,1431.7L1868.5,1439.5L1854.5,1445.7L1849.9,1452.7L1842.1,1460.4L1832.8,1470.5L1817.3,1475.2L1800.2,1479.1L1790.9,1488.4L1784.7,1491.5L1775.3,1497.7L1762.9,1500.8L1753.6,1502.4L1747.4,1505.5L1739.6,1514.0L1733.4,1513.2L1728.8,1505.5L1723.3,1503.1L1720.2,1515.6L1715.6,1514.8L1713.2,1508.6L1705.5,1510.1L1692.3,1515.6L1687.6,1494.6L1683.7,1491.5L1673.6,1493.0L1666.6,1485.3L1658.9,1479.1L1648.0,1478.3L1637.1,1473.6L1627.0,1469.8L1623.2,1477.5L1617.0,1483.0L1607.6,1483.7L1601.4,1479.1L1592.1,1481.4L1581.2,1480.6L1576.6,1478.3L1568.8,1481.4L1564.9,1475.2L1561.1,1474.4L1557.2,1480.6L1548.6,1481.4L1538.5,1485.3L1538.5,1347.9L1535.9,1347.8Z" fill="none" stroke="#6a6a6c" stroke-width="1.5" stroke-linejoin="round"/>
<text x="1948" y="834" font-size="33.3" fill="#000">Percent Black</text>
<text x="1948" y="882.7" font-size="33.4" fill="#000">by Census tract</text>
<text x="1946.5" y="919.9" font-size="23.25" fill="#000">2020 US Census</text>
<rect x="1948.7" y="933.8" width="22.3" height="21.8" fill="#f1eff6" stroke="#7a7a7c" stroke-width="1.4"/>
<text x="1976" y="952.0" font-size="17.2" fill="#000">0.00 to 3.16</text>
<rect x="1948.7" y="955.6" width="22.3" height="21.8" fill="#d7d6e8" stroke="#7a7a7c" stroke-width="1.4"/>
<text x="1976" y="973.8" font-size="17.2" fill="#000">3.16 to 6.48</text>
<rect x="1948.7" y="977.4" width="22.3" height="21.8" fill="#aba9d1" stroke="#7a7a7c" stroke-width="1.4"/>
<text x="1976" y="995.6" font-size="17.2" fill="#000">6.48 to 11.34</text>
<rect x="1948.7" y="999.2" width="22.3" height="21.8" fill="#807dba" stroke="#7a7a7c" stroke-width="1.4"/>
<text x="1976" y="1017.4" font-size="17.2" fill="#000">11.34 to 20.67</text>
<rect x="1948.7" y="1021.0" width="22.3" height="21.8" fill="#5b3f98" stroke="#7a7a7c" stroke-width="1.4"/>
<text x="1976" y="1039.2" font-size="17.2" fill="#000">20.67 to 87.88</text>
</svg></body></html>
